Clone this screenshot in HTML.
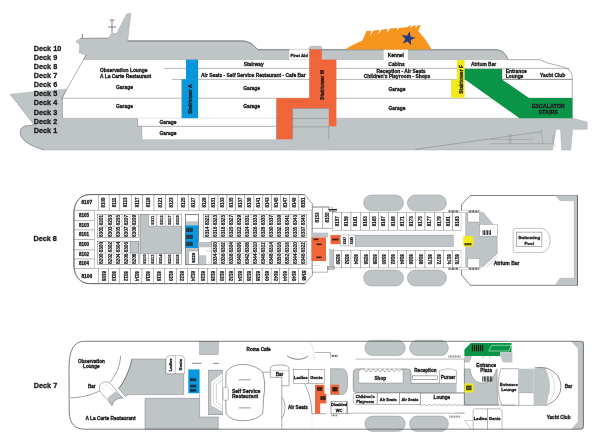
<!DOCTYPE html>
<html><head><meta charset="utf-8"><style>
html,body{margin:0;padding:0;background:#fff;width:600px;height:443px;overflow:hidden}
svg{display:block;font-family:"Liberation Sans",sans-serif;will-change:transform}
</style></head><body>
<svg width="600" height="443" viewBox="0 0 600 443">
<path d="M10.3,94.2 Q38,90.6 66.3,89.2 L62.4,98.4 L62.4,118.3 L572.6,118.3 L587.2,121.9 L587.2,129.3 L572.6,129.3 L570.7,150 L561.6,150 L560.6,129.3 L556,129.3 L552.4,150 L44.2,150 C31.6,146.5 20.2,140.5 20.2,132.4 C20.2,127.6 24,125.6 29,125.6 L34,124.8 Z" fill="#bfc4c7" stroke="#a4a7a9" stroke-width="0.45"/>
<path d="M34,124.8 L29,125.6 C24,125.6 20.2,127.6 20.2,132.4 C20.2,140.5 31.6,146.5 44.2,150" fill="none" stroke="#666" stroke-width="0.45"/>
<path d="M10.3,94.2 L34,124.8" fill="none" stroke="#8a8a8a" stroke-width="0.35"/>
<path d="M75.8,41.8 L80.5,38.2 L108.3,38 L111.7,33.6 L116.7,33.4 L126.3,14.5 L127.8,13.6 L130.8,13.6 L127.6,40.6 L241,40.6 C250,40.6 253,44.5 257.8,49.4 L495,49.4 C502,49.4 506,54 508,59.6 L83.7,59.6 L86,55 L79,52.5 L79.7,49 L79.7,44.2 Z" fill="#bfc4c7" stroke="#8a8a8a" stroke-width="0.4"/>
<path d="M127.6,41.1 L241,41.1 C250,41.1 253,45 257.8,49.8 L495,49.8 C502,49.8 506,54 508,59.6" fill="none" stroke="#7d8083" stroke-width="0.9"/>
<path d="M80.5,38.5 L108.3,38.3" fill="none" stroke="#8a8d90" stroke-width="0.6"/>
<line x1="112" y1="20" x2="112" y2="33" stroke="#333" stroke-width="0.6"/>
<line x1="109.6" y1="20" x2="114.7" y2="20" stroke="#333" stroke-width="0.6"/>
<line x1="108" y1="27" x2="116" y2="27" stroke="#333" stroke-width="0.6"/>
<line x1="82.4" y1="34" x2="82.4" y2="38.2" stroke="#333" stroke-width="0.6"/>
<line x1="125" y1="22" x2="119.5" y2="37" stroke="#a9adb0" stroke-width="0.4"/>
<line x1="128" y1="20" x2="127" y2="30" stroke="#a9adb0" stroke-width="0.3"/>
<polyline points="508,59.6 539.2,59.6 547.7,63 561.2,66.4" fill="none" stroke="#5a5a5a" stroke-width="0.5"/>
<path d="M561.2,66.4 C567.5,68 572.2,71 572.2,77 L572.2,118.3" fill="none" stroke="#5a5a5a" stroke-width="0.5"/>
<line x1="86" y1="55" x2="61.6" y2="98.6" stroke="#5a5a5a" stroke-width="0.45"/>
<line x1="163.8" y1="68.4" x2="569.7" y2="68.4" stroke="#6e6e6e" stroke-width="0.5"/>
<line x1="172" y1="79.4" x2="572.2" y2="79.4" stroke="#6e6e6e" stroke-width="0.5"/>
<line x1="62.4" y1="98.2" x2="572.2" y2="98.2" stroke="#6e6e6e" stroke-width="0.5"/>
<rect x="137.6" y="118.3" width="138.8" height="8" fill="#fff"/>
<rect x="142" y="126.3" width="134.4" height="13" fill="#fff"/>
<line x1="137.6" y1="126.3" x2="276.4" y2="126.3" stroke="#6e6e6e" stroke-width="0.5"/>
<line x1="137.6" y1="118.4" x2="137.6" y2="126.3" stroke="#6e6e6e" stroke-width="0.5"/>
<line x1="142" y1="126.3" x2="142" y2="139.3" stroke="#888" stroke-width="0.3"/>
<line x1="62.4" y1="98.2" x2="62.4" y2="118.3" stroke="#888" stroke-width="0.4"/>
<rect x="289.3" y="49.4" width="20.5" height="10.2" fill="#fff"/>
<rect x="383.7" y="49.5" width="24.2" height="10.5" fill="#fff"/>
<line x1="415" y1="149.3" x2="541.4" y2="131.7" stroke="#707070" stroke-width="0.4"/>
<line x1="490" y1="139.4" x2="534" y2="139.4" stroke="#808080" stroke-width="0.35"/>
<line x1="490" y1="143.6" x2="554" y2="143.6" stroke="#808080" stroke-width="0.35"/>
<line x1="509.3" y1="133.5" x2="509.3" y2="143.6" stroke="#808080" stroke-width="0.35"/>
<line x1="511" y1="133.5" x2="511" y2="143.6" stroke="#808080" stroke-width="0.35"/>
<line x1="541" y1="129.5" x2="543" y2="143.6" stroke="#808080" stroke-width="0.35"/>
<path d="M554,135 C552,138 553,143 555,147" fill="none" stroke="#707070" stroke-width="0.35"/>
<path d="M345,49.5 C352,45 357,42.5 362.5,40.4 L366.4,31.1 L371.7,30.7 L369.9,36.3 L373.6,30.4 L379.5,29.8 L378.2,34.2 L381.8,29.5 L387.5,28.9 L386.6,33 L390.2,28.6 L397,28 L397.5,30 L399.2,28 L407,27.3 L408,26.5 L409.5,25.6 L411.3,25.5 L409.6,28.6 L413.6,25.5 L416,25.4 L414.6,28.5 L418.2,25.3 L420.7,25.3 L418.3,31 C424,37 428,43 431.7,49.5 Z" fill="#f7941e"/>
<polygon points="409.74,31.36 410.43,36.59 415.56,37.83 410.8,40.1 411.21,45.36 407.58,41.53 402.7,43.55 405.22,38.91 401.79,34.9 406.98,35.86" fill="#24398a"/>
<rect x="186" y="59.6" width="12.1" height="19.8" fill="#0897dd"/>
<rect x="181.7" y="79.2" width="16.4" height="39" fill="#0897dd"/>
<text x="0" y="0" font-size="5" text-anchor="middle" fill="#1a1a1a" font-weight="bold" stroke="#1a1a1a" stroke-width="0.3" transform="translate(190.2 99.1) rotate(-90) translate(0 1.8)">Stairtower A</text>
<path d="M309.2,49.6 L309.2,48.2 Q309.2,46.2 312,46.2 L319.4,46.2 Q321.8,46.2 321.8,48.2 L321.8,49.6 Z" fill="#bfc4c7" stroke="#777" stroke-width="0.35"/>
<rect x="309.2" y="49.5" width="12.6" height="10.3" fill="#f0663a"/>
<rect x="309.2" y="59.6" width="27.2" height="66.7" fill="#f0663a"/>
<rect x="276.4" y="98.1" width="33.5" height="41.2" fill="#f0663a"/>
<rect x="292.5" y="108.3" width="36.3" height="41.7" fill="#bfc4c7"/>
<line x1="292.7" y1="108.3" x2="292.7" y2="139.3" stroke="#8a7f7a" stroke-width="0.6"/>
<line x1="292.5" y1="108.5" x2="328.8" y2="108.5" stroke="#8a7f7a" stroke-width="0.5"/>
<line x1="276.5" y1="98.2" x2="276.5" y2="139.3" stroke="#a09893" stroke-width="0.6"/>
<line x1="451.5" y1="79.6" x2="451.5" y2="97.8" stroke="#b5b08a" stroke-width="0.5"/>
<line x1="181.9" y1="79.3" x2="181.9" y2="118.2" stroke="#6f8a9a" stroke-width="0.5"/>
<line x1="292.5" y1="118.5" x2="328.8" y2="118.5" stroke="#707070" stroke-width="0.4"/>
<line x1="292.5" y1="126.9" x2="328.8" y2="126.9" stroke="#707070" stroke-width="0.4"/>
<line x1="328.8" y1="126.3" x2="328.8" y2="139" stroke="#707070" stroke-width="0.4"/>
<text x="0" y="0" font-size="5" text-anchor="middle" fill="#1a1a1a" font-weight="bold" stroke="#1a1a1a" stroke-width="0.3" transform="translate(322.5 84.9) rotate(-90) translate(0 1.8)">Stairtower M</text>
<rect x="457" y="60" width="7.6" height="37.8" fill="#f3ea1a"/>
<rect x="451.4" y="79.6" width="5.8" height="18.2" fill="#f3ea1a"/>
<text x="0" y="0" font-size="5" text-anchor="middle" fill="#1a1a1a" font-weight="bold" stroke="#1a1a1a" stroke-width="0.3" transform="translate(460.9 79.4) rotate(-90) translate(0 1.8)">Stairtower F</text>
<polygon points="464.6,68.9 502,68.9 502,79.4 529,97.9 572.4,97.9 572.4,118.3 519.5,118.3 464.6,79.2" fill="#0a9447"/>
<line x1="502" y1="68.6" x2="502" y2="79.4" stroke="#555" stroke-width="0.4"/>
<line x1="502" y1="79.4" x2="572.2" y2="79.4" stroke="#555" stroke-width="0.4"/>
<text x="100" y="72.4" font-size="4.9" text-anchor="start" fill="#1a1a1a" font-weight="bold" stroke="#1a1a1a" stroke-width="0.3">Observation Lounge</text>
<text x="100" y="77.5" font-size="4.9" text-anchor="start" fill="#1a1a1a" font-weight="bold" stroke="#1a1a1a" stroke-width="0.3">A La Carte Restaurant</text>
<text x="124.5" y="89" font-size="4.9" text-anchor="middle" fill="#1a1a1a" font-weight="bold" stroke="#1a1a1a" stroke-width="0.3">Garage</text>
<text x="124.5" y="107.6" font-size="4.9" text-anchor="middle" fill="#1a1a1a" font-weight="bold" stroke="#1a1a1a" stroke-width="0.3">Garage</text>
<text x="168" y="124.2" font-size="4.9" text-anchor="middle" fill="#1a1a1a" font-weight="bold" stroke="#1a1a1a" stroke-width="0.3">Garage</text>
<text x="168" y="134.6" font-size="4.9" text-anchor="middle" fill="#1a1a1a" font-weight="bold" stroke="#1a1a1a" stroke-width="0.3">Garage</text>
<text x="253.7" y="66" font-size="4.9" text-anchor="middle" fill="#1a1a1a" font-weight="bold" stroke="#1a1a1a" stroke-width="0.3">Stairway</text>
<text x="201" y="76.5" font-size="4.9" text-anchor="start" fill="#1a1a1a" font-weight="bold" stroke="#1a1a1a" stroke-width="0.3">Air Seats - Self Service Restaurant - Cafe Bar</text>
<text x="251.6" y="89.7" font-size="4.9" text-anchor="middle" fill="#1a1a1a" font-weight="bold" stroke="#1a1a1a" stroke-width="0.3">Garage</text>
<text x="251.6" y="108.3" font-size="4.9" text-anchor="middle" fill="#1a1a1a" font-weight="bold" stroke="#1a1a1a" stroke-width="0.3">Garage</text>
<text x="299.2" y="56.6" font-size="4.3" text-anchor="middle" fill="#1a1a1a" font-weight="bold" stroke="#1a1a1a" stroke-width="0.3">First Aid</text>
<text x="395.8" y="56.6" font-size="4.9" text-anchor="middle" fill="#1a1a1a" font-weight="bold" stroke="#1a1a1a" stroke-width="0.3">Kennel</text>
<text x="396.5" y="65.5" font-size="4.9" text-anchor="middle" fill="#1a1a1a" font-weight="bold" stroke="#1a1a1a" stroke-width="0.3">Cabins</text>
<text x="401" y="72.8" font-size="4.9" text-anchor="middle" fill="#1a1a1a" font-weight="bold" stroke="#1a1a1a" stroke-width="0.3">Reception - Air Seats</text>
<text x="397" y="77.6" font-size="4.9" text-anchor="middle" fill="#1a1a1a" font-weight="bold" stroke="#1a1a1a" stroke-width="0.3">Children's Playroom - Shops</text>
<text x="397" y="90.6" font-size="4.9" text-anchor="middle" fill="#1a1a1a" font-weight="bold" stroke="#1a1a1a" stroke-width="0.3">Garage</text>
<text x="397" y="109.6" font-size="4.9" text-anchor="middle" fill="#1a1a1a" font-weight="bold" stroke="#1a1a1a" stroke-width="0.3">Garage</text>
<text x="471" y="66.2" font-size="4.9" text-anchor="start" fill="#1a1a1a" font-weight="bold" stroke="#1a1a1a" stroke-width="0.3">Atrium Bar</text>
<text x="505.7" y="73.1" font-size="4.9" text-anchor="start" fill="#1a1a1a" font-weight="bold" stroke="#1a1a1a" stroke-width="0.3">Entrance</text>
<text x="505.7" y="78.2" font-size="4.9" text-anchor="start" fill="#1a1a1a" font-weight="bold" stroke="#1a1a1a" stroke-width="0.3">Lounge</text>
<text x="540" y="76.7" font-size="4.9" text-anchor="start" fill="#1a1a1a" font-weight="bold" stroke="#1a1a1a" stroke-width="0.3">Yacht Club</text>
<text x="548.2" y="107.8" font-size="5.4" text-anchor="middle" fill="#241820" font-weight="bold" stroke="#241820" stroke-width="0.3">ESCALATOR</text>
<text x="548.2" y="113.5" font-size="5.4" text-anchor="middle" fill="#241820" font-weight="bold" stroke="#241820" stroke-width="0.3">STAIRS</text>
<text x="33.8" y="51.1" font-size="8" text-anchor="start" fill="#1a1a1a" font-weight="bold" stroke="#1a1a1a" stroke-width="0.32" transform="translate(33.8 51.1) scale(0.91 1) translate(-33.8 -51.1)">Deck 10</text>
<text x="33.8" y="60.2" font-size="8" text-anchor="start" fill="#1a1a1a" font-weight="bold" stroke="#1a1a1a" stroke-width="0.32" transform="translate(33.8 60.2) scale(0.91 1) translate(-33.8 -60.2)">Deck 9</text>
<text x="33.8" y="69.3" font-size="8" text-anchor="start" fill="#1a1a1a" font-weight="bold" stroke="#1a1a1a" stroke-width="0.32" transform="translate(33.8 69.3) scale(0.91 1) translate(-33.8 -69.3)">Deck 8</text>
<text x="33.8" y="78.3" font-size="8" text-anchor="start" fill="#1a1a1a" font-weight="bold" stroke="#1a1a1a" stroke-width="0.32" transform="translate(33.8 78.3) scale(0.91 1) translate(-33.8 -78.3)">Deck 7</text>
<text x="33.8" y="87.3" font-size="8" text-anchor="start" fill="#1a1a1a" font-weight="bold" stroke="#1a1a1a" stroke-width="0.32" transform="translate(33.8 87.3) scale(0.91 1) translate(-33.8 -87.3)">Deck 6</text>
<text x="33.8" y="96.5" font-size="8" text-anchor="start" fill="#1a1a1a" font-weight="bold" stroke="#1a1a1a" stroke-width="0.32" transform="translate(33.8 96.5) scale(0.91 1) translate(-33.8 -96.5)">Deck 5</text>
<text x="33.8" y="105.5" font-size="8" text-anchor="start" fill="#1a1a1a" font-weight="bold" stroke="#1a1a1a" stroke-width="0.32" transform="translate(33.8 105.5) scale(0.91 1) translate(-33.8 -105.5)">Deck 4</text>
<text x="33.8" y="114.6" font-size="8" text-anchor="start" fill="#1a1a1a" font-weight="bold" stroke="#1a1a1a" stroke-width="0.32" transform="translate(33.8 114.6) scale(0.91 1) translate(-33.8 -114.6)">Deck 3</text>
<text x="33.8" y="123.6" font-size="8" text-anchor="start" fill="#1a1a1a" font-weight="bold" stroke="#1a1a1a" stroke-width="0.32" transform="translate(33.8 123.6) scale(0.91 1) translate(-33.8 -123.6)">Deck 2</text>
<text x="33.8" y="132.8" font-size="8" text-anchor="start" fill="#1a1a1a" font-weight="bold" stroke="#1a1a1a" stroke-width="0.32" transform="translate(33.8 132.8) scale(0.91 1) translate(-33.8 -132.8)">Deck 1</text>
<path d="M304.6,194.6 L89.5,194.6 C80,195 74,202 74,214 L74,264 C74,276 80,283.6 90,283.6 L304.8,283.6 L312.1,275.3 L312.1,267.5 L312.1,203.6 Z" fill="#fff" stroke="#555555" stroke-width="0.75"/>
<rect x="98.5" y="194.6" width="10.65" height="15.7" fill="#fff" stroke="#7a7a7a" stroke-width="0.4"/>
<text x="0" y="0" font-size="4.5" text-anchor="middle" fill="#1a1a1a" font-weight="bold" stroke="#1a1a1a" stroke-width="0.2" transform="translate(103.83 202.45) rotate(-90) translate(0 1.62)">8109</text>
<rect x="109.15" y="194.6" width="10.75" height="15.7" fill="#fff" stroke="#7a7a7a" stroke-width="0.4"/>
<text x="0" y="0" font-size="4.5" text-anchor="middle" fill="#1a1a1a" font-weight="bold" stroke="#1a1a1a" stroke-width="0.2" transform="translate(114.53 202.45) rotate(-90) translate(0 1.62)">8111</text>
<rect x="119.9" y="194.6" width="11.35" height="15.7" fill="#fff" stroke="#7a7a7a" stroke-width="0.4"/>
<text x="0" y="0" font-size="4.5" text-anchor="middle" fill="#1a1a1a" font-weight="bold" stroke="#1a1a1a" stroke-width="0.2" transform="translate(125.58 202.45) rotate(-90) translate(0 1.62)">8113</text>
<rect x="131.25" y="194.6" width="11.25" height="15.7" fill="#fff" stroke="#7a7a7a" stroke-width="0.4"/>
<text x="0" y="0" font-size="4.5" text-anchor="middle" fill="#1a1a1a" font-weight="bold" stroke="#1a1a1a" stroke-width="0.2" transform="translate(136.88 202.45) rotate(-90) translate(0 1.62)">8117</text>
<rect x="142.5" y="194.6" width="11.5" height="15.7" fill="#fff" stroke="#7a7a7a" stroke-width="0.4"/>
<text x="0" y="0" font-size="4.5" text-anchor="middle" fill="#1a1a1a" font-weight="bold" stroke="#1a1a1a" stroke-width="0.2" transform="translate(148.25 202.45) rotate(-90) translate(0 1.62)">8119</text>
<rect x="154" y="194.6" width="11.75" height="15.7" fill="#fff" stroke="#7a7a7a" stroke-width="0.4"/>
<text x="0" y="0" font-size="4.5" text-anchor="middle" fill="#1a1a1a" font-weight="bold" stroke="#1a1a1a" stroke-width="0.2" transform="translate(159.88 202.45) rotate(-90) translate(0 1.62)">8121</text>
<rect x="165.75" y="194.6" width="11.5" height="15.7" fill="#fff" stroke="#7a7a7a" stroke-width="0.4"/>
<text x="0" y="0" font-size="4.5" text-anchor="middle" fill="#1a1a1a" font-weight="bold" stroke="#1a1a1a" stroke-width="0.2" transform="translate(171.5 202.45) rotate(-90) translate(0 1.62)">8123</text>
<rect x="177.25" y="194.6" width="11.25" height="15.7" fill="#fff" stroke="#7a7a7a" stroke-width="0.4"/>
<text x="0" y="0" font-size="4.5" text-anchor="middle" fill="#1a1a1a" font-weight="bold" stroke="#1a1a1a" stroke-width="0.2" transform="translate(182.88 202.45) rotate(-90) translate(0 1.62)">8125</text>
<rect x="188.5" y="194.6" width="10.6" height="15.7" fill="#fff" stroke="#7a7a7a" stroke-width="0.4"/>
<text x="0" y="0" font-size="4.5" text-anchor="middle" fill="#1a1a1a" font-weight="bold" stroke="#1a1a1a" stroke-width="0.2" transform="translate(193.8 202.45) rotate(-90) translate(0 1.62)">8127</text>
<rect x="199.1" y="194.6" width="9.8" height="15.7" fill="#fff" stroke="#7a7a7a" stroke-width="0.4"/>
<text x="0" y="0" font-size="4.5" text-anchor="middle" fill="#1a1a1a" font-weight="bold" stroke="#1a1a1a" stroke-width="0.2" transform="translate(204 202.45) rotate(-90) translate(0 1.62)">8129</text>
<rect x="208.9" y="194.6" width="9.1" height="15.7" fill="#fff" stroke="#7a7a7a" stroke-width="0.4"/>
<text x="0" y="0" font-size="4.5" text-anchor="middle" fill="#1a1a1a" font-weight="bold" stroke="#1a1a1a" stroke-width="0.2" transform="translate(213.45 202.45) rotate(-90) translate(0 1.62)">8131</text>
<rect x="218" y="194.6" width="9" height="15.7" fill="#fff" stroke="#7a7a7a" stroke-width="0.4"/>
<text x="0" y="0" font-size="4.5" text-anchor="middle" fill="#1a1a1a" font-weight="bold" stroke="#1a1a1a" stroke-width="0.2" transform="translate(222.5 202.45) rotate(-90) translate(0 1.62)">8133</text>
<rect x="227" y="194.6" width="8.8" height="15.7" fill="#fff" stroke="#7a7a7a" stroke-width="0.4"/>
<text x="0" y="0" font-size="4.5" text-anchor="middle" fill="#1a1a1a" font-weight="bold" stroke="#1a1a1a" stroke-width="0.2" transform="translate(231.4 202.45) rotate(-90) translate(0 1.62)">8135</text>
<rect x="235.8" y="194.6" width="9" height="15.7" fill="#fff" stroke="#7a7a7a" stroke-width="0.4"/>
<text x="0" y="0" font-size="4.5" text-anchor="middle" fill="#1a1a1a" font-weight="bold" stroke="#1a1a1a" stroke-width="0.2" transform="translate(240.3 202.45) rotate(-90) translate(0 1.62)">8137</text>
<rect x="244.8" y="194.6" width="9.2" height="15.7" fill="#fff" stroke="#7a7a7a" stroke-width="0.4"/>
<text x="0" y="0" font-size="4.5" text-anchor="middle" fill="#1a1a1a" font-weight="bold" stroke="#1a1a1a" stroke-width="0.2" transform="translate(249.4 202.45) rotate(-90) translate(0 1.62)">8139</text>
<rect x="254" y="194.6" width="8.9" height="15.7" fill="#fff" stroke="#7a7a7a" stroke-width="0.4"/>
<text x="0" y="0" font-size="4.5" text-anchor="middle" fill="#1a1a1a" font-weight="bold" stroke="#1a1a1a" stroke-width="0.2" transform="translate(258.45 202.45) rotate(-90) translate(0 1.62)">8141</text>
<rect x="262.9" y="194.6" width="8.8" height="15.7" fill="#fff" stroke="#7a7a7a" stroke-width="0.4"/>
<text x="0" y="0" font-size="4.5" text-anchor="middle" fill="#1a1a1a" font-weight="bold" stroke="#1a1a1a" stroke-width="0.2" transform="translate(267.3 202.45) rotate(-90) translate(0 1.62)">8143</text>
<rect x="271.7" y="194.6" width="8.8" height="15.7" fill="#fff" stroke="#7a7a7a" stroke-width="0.4"/>
<text x="0" y="0" font-size="4.5" text-anchor="middle" fill="#1a1a1a" font-weight="bold" stroke="#1a1a1a" stroke-width="0.2" transform="translate(276.1 202.45) rotate(-90) translate(0 1.62)">8145</text>
<rect x="280.5" y="194.6" width="9" height="15.7" fill="#fff" stroke="#7a7a7a" stroke-width="0.4"/>
<text x="0" y="0" font-size="4.5" text-anchor="middle" fill="#1a1a1a" font-weight="bold" stroke="#1a1a1a" stroke-width="0.2" transform="translate(285 202.45) rotate(-90) translate(0 1.62)">8147</text>
<rect x="289.5" y="194.6" width="9" height="15.7" fill="#fff" stroke="#7a7a7a" stroke-width="0.4"/>
<text x="0" y="0" font-size="4.5" text-anchor="middle" fill="#1a1a1a" font-weight="bold" stroke="#1a1a1a" stroke-width="0.2" transform="translate(294 202.45) rotate(-90) translate(0 1.62)">8149</text>
<path d="M298.5,194.6 L304.6,194.6 L312.1,203.6 L312.1,210.3 L298.5,210.3 Z" fill="#fff" stroke="#7a7a7a" stroke-width="0.4"/>
<text x="0" y="0" font-size="4.5" text-anchor="middle" fill="#1a1a1a" font-weight="bold" stroke="#1a1a1a" stroke-width="0.3" transform="translate(303.5 202.5) rotate(-90) translate(0 1.62)">8151</text>
<rect x="98.5" y="268.4" width="10" height="15.2" fill="#fff" stroke="#7a7a7a" stroke-width="0.4"/>
<text x="0" y="0" font-size="4.5" text-anchor="middle" fill="#1a1a1a" font-weight="bold" stroke="#1a1a1a" stroke-width="0.2" transform="translate(103.5 276) rotate(90) translate(0 1.62)">8108</text>
<rect x="108.5" y="268.4" width="11" height="15.2" fill="#fff" stroke="#7a7a7a" stroke-width="0.4"/>
<text x="0" y="0" font-size="4.5" text-anchor="middle" fill="#1a1a1a" font-weight="bold" stroke="#1a1a1a" stroke-width="0.2" transform="translate(114 276) rotate(90) translate(0 1.62)">8110</text>
<rect x="119.5" y="268.4" width="11.25" height="15.2" fill="#fff" stroke="#7a7a7a" stroke-width="0.4"/>
<text x="0" y="0" font-size="4.5" text-anchor="middle" fill="#1a1a1a" font-weight="bold" stroke="#1a1a1a" stroke-width="0.2" transform="translate(125.12 276) rotate(90) translate(0 1.62)">8112</text>
<rect x="130.75" y="268.4" width="11.25" height="15.2" fill="#fff" stroke="#7a7a7a" stroke-width="0.4"/>
<text x="0" y="0" font-size="4.5" text-anchor="middle" fill="#1a1a1a" font-weight="bold" stroke="#1a1a1a" stroke-width="0.2" transform="translate(136.38 276) rotate(90) translate(0 1.62)">8114</text>
<rect x="142" y="268.4" width="11.25" height="15.2" fill="#fff" stroke="#7a7a7a" stroke-width="0.4"/>
<text x="0" y="0" font-size="4.5" text-anchor="middle" fill="#1a1a1a" font-weight="bold" stroke="#1a1a1a" stroke-width="0.2" transform="translate(147.62 276) rotate(90) translate(0 1.62)">8116</text>
<rect x="153.25" y="268.4" width="11.6" height="15.2" fill="#fff" stroke="#7a7a7a" stroke-width="0.4"/>
<text x="0" y="0" font-size="4.5" text-anchor="middle" fill="#1a1a1a" font-weight="bold" stroke="#1a1a1a" stroke-width="0.2" transform="translate(159.05 276) rotate(90) translate(0 1.62)">8118</text>
<rect x="164.85" y="268.4" width="11.5" height="15.2" fill="#fff" stroke="#7a7a7a" stroke-width="0.4"/>
<text x="0" y="0" font-size="4.5" text-anchor="middle" fill="#1a1a1a" font-weight="bold" stroke="#1a1a1a" stroke-width="0.2" transform="translate(170.6 276) rotate(90) translate(0 1.62)">8120</text>
<rect x="176.35" y="268.4" width="11.3" height="15.2" fill="#fff" stroke="#7a7a7a" stroke-width="0.4"/>
<text x="0" y="0" font-size="4.5" text-anchor="middle" fill="#1a1a1a" font-weight="bold" stroke="#1a1a1a" stroke-width="0.2" transform="translate(182 276) rotate(90) translate(0 1.62)">8122</text>
<rect x="187.65" y="268.4" width="10.65" height="15.2" fill="#fff" stroke="#7a7a7a" stroke-width="0.4"/>
<text x="0" y="0" font-size="4.5" text-anchor="middle" fill="#1a1a1a" font-weight="bold" stroke="#1a1a1a" stroke-width="0.2" transform="translate(192.98 276) rotate(90) translate(0 1.62)">8124</text>
<rect x="198.3" y="268.4" width="9.35" height="15.2" fill="#fff" stroke="#7a7a7a" stroke-width="0.4"/>
<text x="0" y="0" font-size="4.5" text-anchor="middle" fill="#1a1a1a" font-weight="bold" stroke="#1a1a1a" stroke-width="0.2" transform="translate(202.98 276) rotate(90) translate(0 1.62)">8126</text>
<rect x="207.65" y="268.4" width="9" height="15.2" fill="#fff" stroke="#7a7a7a" stroke-width="0.4"/>
<text x="0" y="0" font-size="4.5" text-anchor="middle" fill="#1a1a1a" font-weight="bold" stroke="#1a1a1a" stroke-width="0.2" transform="translate(212.15 276) rotate(90) translate(0 1.62)">8128</text>
<rect x="216.65" y="268.4" width="9.12" height="15.2" fill="#fff" stroke="#7a7a7a" stroke-width="0.4"/>
<text x="0" y="0" font-size="4.5" text-anchor="middle" fill="#1a1a1a" font-weight="bold" stroke="#1a1a1a" stroke-width="0.2" transform="translate(221.21 276) rotate(90) translate(0 1.62)">8130</text>
<rect x="225.78" y="268.4" width="8.97" height="15.2" fill="#fff" stroke="#7a7a7a" stroke-width="0.4"/>
<text x="0" y="0" font-size="4.5" text-anchor="middle" fill="#1a1a1a" font-weight="bold" stroke="#1a1a1a" stroke-width="0.2" transform="translate(230.26 276) rotate(90) translate(0 1.62)">8132</text>
<rect x="234.75" y="268.4" width="9" height="15.2" fill="#fff" stroke="#7a7a7a" stroke-width="0.4"/>
<text x="0" y="0" font-size="4.5" text-anchor="middle" fill="#1a1a1a" font-weight="bold" stroke="#1a1a1a" stroke-width="0.2" transform="translate(239.25 276) rotate(90) translate(0 1.62)">8134</text>
<rect x="243.75" y="268.4" width="9" height="15.2" fill="#fff" stroke="#7a7a7a" stroke-width="0.4"/>
<text x="0" y="0" font-size="4.5" text-anchor="middle" fill="#1a1a1a" font-weight="bold" stroke="#1a1a1a" stroke-width="0.2" transform="translate(248.25 276) rotate(90) translate(0 1.62)">8136</text>
<rect x="252.75" y="268.4" width="9.38" height="15.2" fill="#fff" stroke="#7a7a7a" stroke-width="0.4"/>
<text x="0" y="0" font-size="4.5" text-anchor="middle" fill="#1a1a1a" font-weight="bold" stroke="#1a1a1a" stroke-width="0.2" transform="translate(257.44 276) rotate(90) translate(0 1.62)">8138</text>
<rect x="262.12" y="268.4" width="9" height="15.2" fill="#fff" stroke="#7a7a7a" stroke-width="0.4"/>
<text x="0" y="0" font-size="4.5" text-anchor="middle" fill="#1a1a1a" font-weight="bold" stroke="#1a1a1a" stroke-width="0.2" transform="translate(266.62 276) rotate(90) translate(0 1.62)">8140</text>
<rect x="271.12" y="268.4" width="8.62" height="15.2" fill="#fff" stroke="#7a7a7a" stroke-width="0.4"/>
<text x="0" y="0" font-size="4.5" text-anchor="middle" fill="#1a1a1a" font-weight="bold" stroke="#1a1a1a" stroke-width="0.2" transform="translate(275.44 276) rotate(90) translate(0 1.62)">8142</text>
<rect x="279.75" y="268.4" width="9" height="15.2" fill="#fff" stroke="#7a7a7a" stroke-width="0.4"/>
<text x="0" y="0" font-size="4.5" text-anchor="middle" fill="#1a1a1a" font-weight="bold" stroke="#1a1a1a" stroke-width="0.2" transform="translate(284.25 276) rotate(90) translate(0 1.62)">8144</text>
<rect x="288.75" y="268.4" width="9.75" height="15.2" fill="#fff" stroke="#7a7a7a" stroke-width="0.4"/>
<text x="0" y="0" font-size="4.5" text-anchor="middle" fill="#1a1a1a" font-weight="bold" stroke="#1a1a1a" stroke-width="0.2" transform="translate(293.62 276) rotate(90) translate(0 1.62)">8146</text>
<path d="M298.5,268.4 L312.1,268.4 L312.1,275.3 L304.8,283.6 L298.5,283.6 Z" fill="#fff" stroke="#7a7a7a" stroke-width="0.4"/>
<text x="0" y="0" font-size="4.5" text-anchor="middle" fill="#1a1a1a" font-weight="bold" stroke="#1a1a1a" stroke-width="0.3" transform="translate(304 275.4) rotate(90) translate(0 1.62)">8148</text>
<path d="M98.5,194.6 L89.5,194.6 C80,195 74,202 74,210.3 L98.5,210.3 Z" fill="#fff" stroke="#7a7a7a" stroke-width="0.4"/>
<text x="86.8" y="204.4" font-size="4.8" text-anchor="middle" fill="#1a1a1a" font-weight="bold" stroke="#1a1a1a" stroke-width="0.3">8107</text>
<path d="M98.5,268.4 L74,268.4 C74,276 80,283.6 90,283.6 L98.5,283.6 Z" fill="#fff" stroke="#7a7a7a" stroke-width="0.4"/>
<text x="86.8" y="277.8" font-size="4.8" text-anchor="middle" fill="#1a1a1a" font-weight="bold" stroke="#1a1a1a" stroke-width="0.3">8106</text>
<rect x="74" y="210.3" width="20.2" height="10.1" fill="#fff" stroke="#7a7a7a" stroke-width="0.4"/>
<text x="84" y="216.85" font-size="4.5" text-anchor="middle" fill="#1a1a1a" font-weight="bold" stroke="#1a1a1a" stroke-width="0.3">8105</text>
<rect x="74" y="220.4" width="20.2" height="9.6" fill="#fff" stroke="#7a7a7a" stroke-width="0.4"/>
<text x="84" y="226.7" font-size="4.5" text-anchor="middle" fill="#1a1a1a" font-weight="bold" stroke="#1a1a1a" stroke-width="0.3">8103</text>
<rect x="74" y="230" width="20.2" height="9.6" fill="#fff" stroke="#7a7a7a" stroke-width="0.4"/>
<text x="84" y="236.3" font-size="4.5" text-anchor="middle" fill="#1a1a1a" font-weight="bold" stroke="#1a1a1a" stroke-width="0.3">8101</text>
<rect x="74" y="239.6" width="20.2" height="10.4" fill="#fff" stroke="#7a7a7a" stroke-width="0.4"/>
<text x="84" y="246.3" font-size="4.5" text-anchor="middle" fill="#1a1a1a" font-weight="bold" stroke="#1a1a1a" stroke-width="0.3">8100</text>
<rect x="74" y="250" width="20.2" height="9" fill="#fff" stroke="#7a7a7a" stroke-width="0.4"/>
<text x="84" y="256" font-size="4.5" text-anchor="middle" fill="#1a1a1a" font-weight="bold" stroke="#1a1a1a" stroke-width="0.3">8102</text>
<rect x="74" y="259" width="20.2" height="9.4" fill="#fff" stroke="#7a7a7a" stroke-width="0.4"/>
<text x="84" y="265.2" font-size="4.5" text-anchor="middle" fill="#1a1a1a" font-weight="bold" stroke="#1a1a1a" stroke-width="0.3">8104</text>
<path d="M304.6,194.6 L89.5,194.6 C80,195 74,202 74,214 L74,264 C74,276 80,283.6 90,283.6 L304.8,283.6" fill="none" stroke="#555555" stroke-width="0.75"/>
<rect x="97.6" y="214.3" width="40.7" height="23.4" fill="#fff" stroke="#555555" stroke-width="0.45"/>
<line x1="97.6" y1="226" x2="138.3" y2="226" stroke="#7a7a7a" stroke-width="0.35"/>
<line x1="105.74" y1="214.3" x2="105.74" y2="237.7" stroke="#7a7a7a" stroke-width="0.35"/>
<line x1="113.88" y1="214.3" x2="113.88" y2="237.7" stroke="#7a7a7a" stroke-width="0.35"/>
<line x1="122.02" y1="214.3" x2="122.02" y2="237.7" stroke="#7a7a7a" stroke-width="0.35"/>
<line x1="130.16" y1="214.3" x2="130.16" y2="237.7" stroke="#7a7a7a" stroke-width="0.35"/>
<text x="0" y="0" font-size="4.7" text-anchor="middle" fill="#1a1a1a" font-weight="bold" stroke="#1a1a1a" stroke-width="0.14" transform="translate(101.67 220.15) rotate(-90) translate(0 1.69)">8201</text>
<text x="0" y="0" font-size="4.7" text-anchor="middle" fill="#1a1a1a" font-weight="bold" stroke="#1a1a1a" stroke-width="0.14" transform="translate(101.67 231.85) rotate(-90) translate(0 1.69)">8301</text>
<text x="0" y="0" font-size="4.7" text-anchor="middle" fill="#1a1a1a" font-weight="bold" stroke="#1a1a1a" stroke-width="0.14" transform="translate(109.81 220.15) rotate(-90) translate(0 1.69)">8203</text>
<text x="0" y="0" font-size="4.7" text-anchor="middle" fill="#1a1a1a" font-weight="bold" stroke="#1a1a1a" stroke-width="0.14" transform="translate(109.81 231.85) rotate(-90) translate(0 1.69)">8303</text>
<text x="0" y="0" font-size="4.7" text-anchor="middle" fill="#1a1a1a" font-weight="bold" stroke="#1a1a1a" stroke-width="0.14" transform="translate(117.95 220.15) rotate(-90) translate(0 1.69)">8205</text>
<text x="0" y="0" font-size="4.7" text-anchor="middle" fill="#1a1a1a" font-weight="bold" stroke="#1a1a1a" stroke-width="0.14" transform="translate(117.95 231.85) rotate(-90) translate(0 1.69)">8305</text>
<text x="0" y="0" font-size="4.7" text-anchor="middle" fill="#1a1a1a" font-weight="bold" stroke="#1a1a1a" stroke-width="0.14" transform="translate(126.09 220.15) rotate(-90) translate(0 1.69)">8207</text>
<text x="0" y="0" font-size="4.7" text-anchor="middle" fill="#1a1a1a" font-weight="bold" stroke="#1a1a1a" stroke-width="0.14" transform="translate(126.09 231.85) rotate(-90) translate(0 1.69)">8307</text>
<text x="0" y="0" font-size="4.7" text-anchor="middle" fill="#1a1a1a" font-weight="bold" stroke="#1a1a1a" stroke-width="0.14" transform="translate(134.23 220.15) rotate(-90) translate(0 1.69)">8209</text>
<text x="0" y="0" font-size="4.7" text-anchor="middle" fill="#1a1a1a" font-weight="bold" stroke="#1a1a1a" stroke-width="0.14" transform="translate(134.23 231.85) rotate(-90) translate(0 1.69)">8309</text>
<rect x="97.6" y="241.3" width="40.7" height="23.4" fill="#fff" stroke="#555555" stroke-width="0.45"/>
<line x1="97.6" y1="253" x2="138.3" y2="253" stroke="#7a7a7a" stroke-width="0.35"/>
<line x1="105.74" y1="241.3" x2="105.74" y2="264.7" stroke="#7a7a7a" stroke-width="0.35"/>
<line x1="113.88" y1="241.3" x2="113.88" y2="264.7" stroke="#7a7a7a" stroke-width="0.35"/>
<line x1="122.02" y1="241.3" x2="122.02" y2="264.7" stroke="#7a7a7a" stroke-width="0.35"/>
<line x1="130.16" y1="241.3" x2="130.16" y2="264.7" stroke="#7a7a7a" stroke-width="0.35"/>
<text x="0" y="0" font-size="4.7" text-anchor="middle" fill="#1a1a1a" font-weight="bold" stroke="#1a1a1a" stroke-width="0.14" transform="translate(101.67 247.15) rotate(-90) translate(0 1.69)">8300</text>
<text x="0" y="0" font-size="4.7" text-anchor="middle" fill="#1a1a1a" font-weight="bold" stroke="#1a1a1a" stroke-width="0.14" transform="translate(101.67 258.85) rotate(-90) translate(0 1.69)">8200</text>
<text x="0" y="0" font-size="4.7" text-anchor="middle" fill="#1a1a1a" font-weight="bold" stroke="#1a1a1a" stroke-width="0.14" transform="translate(109.81 247.15) rotate(-90) translate(0 1.69)">8302</text>
<text x="0" y="0" font-size="4.7" text-anchor="middle" fill="#1a1a1a" font-weight="bold" stroke="#1a1a1a" stroke-width="0.14" transform="translate(109.81 258.85) rotate(-90) translate(0 1.69)">8202</text>
<text x="0" y="0" font-size="4.7" text-anchor="middle" fill="#1a1a1a" font-weight="bold" stroke="#1a1a1a" stroke-width="0.14" transform="translate(117.95 247.15) rotate(-90) translate(0 1.69)">8304</text>
<text x="0" y="0" font-size="4.7" text-anchor="middle" fill="#1a1a1a" font-weight="bold" stroke="#1a1a1a" stroke-width="0.14" transform="translate(117.95 258.85) rotate(-90) translate(0 1.69)">8204</text>
<text x="0" y="0" font-size="4.7" text-anchor="middle" fill="#1a1a1a" font-weight="bold" stroke="#1a1a1a" stroke-width="0.14" transform="translate(126.09 247.15) rotate(-90) translate(0 1.69)">8306</text>
<text x="0" y="0" font-size="4.7" text-anchor="middle" fill="#1a1a1a" font-weight="bold" stroke="#1a1a1a" stroke-width="0.14" transform="translate(126.09 258.85) rotate(-90) translate(0 1.69)">8206</text>
<text x="0" y="0" font-size="4.7" text-anchor="middle" fill="#1a1a1a" font-weight="bold" stroke="#1a1a1a" stroke-width="0.14" transform="translate(134.23 247.15) rotate(-90) translate(0 1.69)"></text>
<text x="0" y="0" font-size="4.7" text-anchor="middle" fill="#1a1a1a" font-weight="bold" stroke="#1a1a1a" stroke-width="0.14" transform="translate(134.23 258.85) rotate(-90) translate(0 1.69)">8208</text>
<rect x="130.1" y="241.3" width="8.2" height="11.7" fill="#bfc4c7" stroke="#7a7a7a" stroke-width="0.35"/>
<rect x="140" y="214.3" width="41.7" height="50.4" fill="#bfc4c7" stroke="#555555" stroke-width="0.45"/>
<rect x="148.7" y="214.3" width="8.2" height="11.7" fill="#fff" stroke="#7a7a7a" stroke-width="0.35"/>
<text x="0" y="0" font-size="4.2" text-anchor="middle" fill="#1a1a1a" font-weight="bold" stroke="#1a1a1a" stroke-width="0.2" transform="translate(152.8 220.15) rotate(-90) translate(0 1.51)">8311</text>
<rect x="156.9" y="214.3" width="8.2" height="11.7" fill="#fff" stroke="#7a7a7a" stroke-width="0.35"/>
<text x="0" y="0" font-size="4.2" text-anchor="middle" fill="#1a1a1a" font-weight="bold" stroke="#1a1a1a" stroke-width="0.2" transform="translate(161 220.15) rotate(-90) translate(0 1.51)">8313</text>
<rect x="165.1" y="214.3" width="8.2" height="11.7" fill="#fff" stroke="#7a7a7a" stroke-width="0.35"/>
<text x="0" y="0" font-size="4.2" text-anchor="middle" fill="#1a1a1a" font-weight="bold" stroke="#1a1a1a" stroke-width="0.2" transform="translate(169.2 220.15) rotate(-90) translate(0 1.51)">8317</text>
<rect x="173.3" y="214.3" width="8.4" height="11.7" fill="#fff" stroke="#7a7a7a" stroke-width="0.35"/>
<text x="0" y="0" font-size="4.2" text-anchor="middle" fill="#1a1a1a" font-weight="bold" stroke="#1a1a1a" stroke-width="0.2" transform="translate(177.5 220.15) rotate(-90) translate(0 1.51)">8319</text>
<rect x="140" y="253.7" width="8.34" height="11" fill="#fff" stroke="#7a7a7a" stroke-width="0.35"/>
<text x="0" y="0" font-size="4.2" text-anchor="middle" fill="#1a1a1a" font-weight="bold" stroke="#1a1a1a" stroke-width="0.2" transform="translate(144.17 259.2) rotate(-90) translate(0 1.51)">8310</text>
<rect x="148.34" y="253.7" width="8.34" height="11" fill="#fff" stroke="#7a7a7a" stroke-width="0.35"/>
<text x="0" y="0" font-size="4.2" text-anchor="middle" fill="#1a1a1a" font-weight="bold" stroke="#1a1a1a" stroke-width="0.2" transform="translate(152.51 259.2) rotate(-90) translate(0 1.51)">8312</text>
<rect x="156.68" y="253.7" width="8.34" height="11" fill="#fff" stroke="#7a7a7a" stroke-width="0.35"/>
<text x="0" y="0" font-size="4.2" text-anchor="middle" fill="#1a1a1a" font-weight="bold" stroke="#1a1a1a" stroke-width="0.2" transform="translate(160.85 259.2) rotate(-90) translate(0 1.51)">8314</text>
<rect x="165.02" y="253.7" width="8.34" height="11" fill="#fff" stroke="#7a7a7a" stroke-width="0.35"/>
<text x="0" y="0" font-size="4.2" text-anchor="middle" fill="#1a1a1a" font-weight="bold" stroke="#1a1a1a" stroke-width="0.2" transform="translate(169.19 259.2) rotate(-90) translate(0 1.51)">8316</text>
<rect x="173.36" y="253.7" width="8.34" height="11" fill="#fff" stroke="#7a7a7a" stroke-width="0.35"/>
<text x="0" y="0" font-size="4.2" text-anchor="middle" fill="#1a1a1a" font-weight="bold" stroke="#1a1a1a" stroke-width="0.2" transform="translate(177.53 259.2) rotate(-90) translate(0 1.51)">8318</text>
<rect x="185.3" y="214.3" width="13" height="50.4" fill="#fff" stroke="#555555" stroke-width="0.45"/>
<rect x="185.3" y="221.3" width="13" height="4" fill="#bfc4c7"/>
<rect x="185.3" y="225.3" width="13" height="22.7" fill="#0897dd"/>
<rect x="186.2" y="227.8" width="6.6" height="4.2" fill="#1d3140"/>
<line x1="187.85" y1="227.8" x2="187.85" y2="232" stroke="#0897dd" stroke-width="0.3"/>
<line x1="189.5" y1="227.8" x2="189.5" y2="232" stroke="#0897dd" stroke-width="0.3"/>
<line x1="191.15" y1="227.8" x2="191.15" y2="232" stroke="#0897dd" stroke-width="0.3"/>
<rect x="186.2" y="234.8" width="6.6" height="4.2" fill="#1d3140"/>
<line x1="187.85" y1="234.8" x2="187.85" y2="239" stroke="#0897dd" stroke-width="0.3"/>
<line x1="189.5" y1="234.8" x2="189.5" y2="239" stroke="#0897dd" stroke-width="0.3"/>
<line x1="191.15" y1="234.8" x2="191.15" y2="239" stroke="#0897dd" stroke-width="0.3"/>
<rect x="186.2" y="241.8" width="6.6" height="4.2" fill="#1d3140"/>
<line x1="187.85" y1="241.8" x2="187.85" y2="246" stroke="#0897dd" stroke-width="0.3"/>
<line x1="189.5" y1="241.8" x2="189.5" y2="246" stroke="#0897dd" stroke-width="0.3"/>
<line x1="191.15" y1="241.8" x2="191.15" y2="246" stroke="#0897dd" stroke-width="0.3"/>
<rect x="185.3" y="248" width="3.4" height="16.7" fill="#bfc4c7"/>
<rect x="188.7" y="248" width="9.6" height="3" fill="#bfc4c7"/>
<rect x="188.7" y="251" width="9.6" height="13.7" fill="#fff" stroke="#7a7a7a" stroke-width="0.35"/>
<text x="0" y="0" font-size="4.4" text-anchor="middle" fill="#1a1a1a" font-weight="bold" stroke="#1a1a1a" stroke-width="0.3" transform="translate(193.5 257.8) rotate(-90) translate(0 1.58)">8229</text>
<rect x="185.3" y="214.3" width="13" height="50.4" fill="none" stroke="#555555" stroke-width="0.45"/>
<rect x="198.3" y="242" width="13.4" height="5.3" fill="#bfc4c7"/>
<rect x="199" y="255.3" width="7.3" height="9.4" fill="#bfc4c7"/>
<line x1="198.3" y1="264.7" x2="211.7" y2="264.7" stroke="#555555" stroke-width="0.45"/>
<line x1="206.3" y1="251" x2="211.7" y2="251" stroke="#7a7a7a" stroke-width="0.35"/>
<rect x="203.7" y="214.3" width="103.1" height="23.2" fill="#fff" stroke="#555555" stroke-width="0.45"/>
<line x1="211.63" y1="214.3" x2="211.63" y2="237.5" stroke="#7a7a7a" stroke-width="0.35"/>
<line x1="219.56" y1="214.3" x2="219.56" y2="237.5" stroke="#7a7a7a" stroke-width="0.35"/>
<line x1="227.49" y1="214.3" x2="227.49" y2="237.5" stroke="#7a7a7a" stroke-width="0.35"/>
<line x1="235.42" y1="214.3" x2="235.42" y2="237.5" stroke="#7a7a7a" stroke-width="0.35"/>
<line x1="243.35" y1="214.3" x2="243.35" y2="237.5" stroke="#7a7a7a" stroke-width="0.35"/>
<line x1="251.28" y1="214.3" x2="251.28" y2="237.5" stroke="#7a7a7a" stroke-width="0.35"/>
<line x1="259.22" y1="214.3" x2="259.22" y2="237.5" stroke="#7a7a7a" stroke-width="0.35"/>
<line x1="267.15" y1="214.3" x2="267.15" y2="237.5" stroke="#7a7a7a" stroke-width="0.35"/>
<line x1="275.08" y1="214.3" x2="275.08" y2="237.5" stroke="#7a7a7a" stroke-width="0.35"/>
<line x1="283.01" y1="214.3" x2="283.01" y2="237.5" stroke="#7a7a7a" stroke-width="0.35"/>
<line x1="290.94" y1="214.3" x2="290.94" y2="237.5" stroke="#7a7a7a" stroke-width="0.35"/>
<line x1="298.87" y1="214.3" x2="298.87" y2="237.5" stroke="#7a7a7a" stroke-width="0.35"/>
<text x="0" y="0" font-size="4.7" text-anchor="middle" fill="#1a1a1a" font-weight="bold" stroke="#1a1a1a" stroke-width="0.14" transform="translate(207.67 220.15) rotate(-90) translate(0 1.69)">8321</text>
<text x="0" y="0" font-size="4.7" text-anchor="middle" fill="#1a1a1a" font-weight="bold" stroke="#1a1a1a" stroke-width="0.14" transform="translate(207.67 231.75) rotate(-90) translate(0 1.69)">8314</text>
<text x="0" y="0" font-size="4.7" text-anchor="middle" fill="#1a1a1a" font-weight="bold" stroke="#1a1a1a" stroke-width="0.14" transform="translate(215.6 220.15) rotate(-90) translate(0 1.69)">8323</text>
<text x="0" y="0" font-size="4.7" text-anchor="middle" fill="#1a1a1a" font-weight="bold" stroke="#1a1a1a" stroke-width="0.14" transform="translate(215.6 231.75) rotate(-90) translate(0 1.69)">8316</text>
<text x="0" y="0" font-size="4.7" text-anchor="middle" fill="#1a1a1a" font-weight="bold" stroke="#1a1a1a" stroke-width="0.14" transform="translate(223.53 220.15) rotate(-90) translate(0 1.69)">8325</text>
<text x="0" y="0" font-size="4.7" text-anchor="middle" fill="#1a1a1a" font-weight="bold" stroke="#1a1a1a" stroke-width="0.14" transform="translate(223.53 231.75) rotate(-90) translate(0 1.69)">8318</text>
<text x="0" y="0" font-size="4.7" text-anchor="middle" fill="#1a1a1a" font-weight="bold" stroke="#1a1a1a" stroke-width="0.14" transform="translate(231.46 220.15) rotate(-90) translate(0 1.69)">8327</text>
<text x="0" y="0" font-size="4.7" text-anchor="middle" fill="#1a1a1a" font-weight="bold" stroke="#1a1a1a" stroke-width="0.14" transform="translate(231.46 231.75) rotate(-90) translate(0 1.69)">8320</text>
<text x="0" y="0" font-size="4.7" text-anchor="middle" fill="#1a1a1a" font-weight="bold" stroke="#1a1a1a" stroke-width="0.14" transform="translate(239.39 220.15) rotate(-90) translate(0 1.69)">8329</text>
<text x="0" y="0" font-size="4.7" text-anchor="middle" fill="#1a1a1a" font-weight="bold" stroke="#1a1a1a" stroke-width="0.14" transform="translate(239.39 231.75) rotate(-90) translate(0 1.69)">8322</text>
<text x="0" y="0" font-size="4.7" text-anchor="middle" fill="#1a1a1a" font-weight="bold" stroke="#1a1a1a" stroke-width="0.14" transform="translate(247.32 220.15) rotate(-90) translate(0 1.69)">8331</text>
<text x="0" y="0" font-size="4.7" text-anchor="middle" fill="#1a1a1a" font-weight="bold" stroke="#1a1a1a" stroke-width="0.14" transform="translate(247.32 231.75) rotate(-90) translate(0 1.69)">8324</text>
<text x="0" y="0" font-size="4.7" text-anchor="middle" fill="#1a1a1a" font-weight="bold" stroke="#1a1a1a" stroke-width="0.14" transform="translate(255.25 220.15) rotate(-90) translate(0 1.69)">8333</text>
<text x="0" y="0" font-size="4.7" text-anchor="middle" fill="#1a1a1a" font-weight="bold" stroke="#1a1a1a" stroke-width="0.14" transform="translate(255.25 231.75) rotate(-90) translate(0 1.69)">8326</text>
<text x="0" y="0" font-size="4.7" text-anchor="middle" fill="#1a1a1a" font-weight="bold" stroke="#1a1a1a" stroke-width="0.14" transform="translate(263.18 220.15) rotate(-90) translate(0 1.69)">8335</text>
<text x="0" y="0" font-size="4.7" text-anchor="middle" fill="#1a1a1a" font-weight="bold" stroke="#1a1a1a" stroke-width="0.14" transform="translate(263.18 231.75) rotate(-90) translate(0 1.69)">8328</text>
<text x="0" y="0" font-size="4.7" text-anchor="middle" fill="#1a1a1a" font-weight="bold" stroke="#1a1a1a" stroke-width="0.14" transform="translate(271.11 220.15) rotate(-90) translate(0 1.69)">8337</text>
<text x="0" y="0" font-size="4.7" text-anchor="middle" fill="#1a1a1a" font-weight="bold" stroke="#1a1a1a" stroke-width="0.14" transform="translate(271.11 231.75) rotate(-90) translate(0 1.69)">8330</text>
<text x="0" y="0" font-size="4.7" text-anchor="middle" fill="#1a1a1a" font-weight="bold" stroke="#1a1a1a" stroke-width="0.14" transform="translate(279.04 220.15) rotate(-90) translate(0 1.69)">8339</text>
<text x="0" y="0" font-size="4.7" text-anchor="middle" fill="#1a1a1a" font-weight="bold" stroke="#1a1a1a" stroke-width="0.14" transform="translate(279.04 231.75) rotate(-90) translate(0 1.69)">8332</text>
<text x="0" y="0" font-size="4.7" text-anchor="middle" fill="#1a1a1a" font-weight="bold" stroke="#1a1a1a" stroke-width="0.14" transform="translate(286.97 220.15) rotate(-90) translate(0 1.69)">8341</text>
<text x="0" y="0" font-size="4.7" text-anchor="middle" fill="#1a1a1a" font-weight="bold" stroke="#1a1a1a" stroke-width="0.14" transform="translate(286.97 231.75) rotate(-90) translate(0 1.69)">8333</text>
<text x="0" y="0" font-size="4.7" text-anchor="middle" fill="#1a1a1a" font-weight="bold" stroke="#1a1a1a" stroke-width="0.14" transform="translate(294.9 220.15) rotate(-90) translate(0 1.69)">8343</text>
<text x="0" y="0" font-size="4.7" text-anchor="middle" fill="#1a1a1a" font-weight="bold" stroke="#1a1a1a" stroke-width="0.14" transform="translate(294.9 231.75) rotate(-90) translate(0 1.69)">8335</text>
<text x="0" y="0" font-size="4.7" text-anchor="middle" fill="#1a1a1a" font-weight="bold" stroke="#1a1a1a" stroke-width="0.14" transform="translate(302.83 220.15) rotate(-90) translate(0 1.69)">8345</text>
<text x="0" y="0" font-size="4.7" text-anchor="middle" fill="#1a1a1a" font-weight="bold" stroke="#1a1a1a" stroke-width="0.14" transform="translate(302.83 231.75) rotate(-90) translate(0 1.69)">8337</text>
<rect x="211.7" y="241.4" width="95.1" height="23.1" fill="#fff" stroke="#555555" stroke-width="0.45"/>
<line x1="211.7" y1="253.3" x2="306.8" y2="253.3" stroke="#7a7a7a" stroke-width="0.35"/>
<line x1="219.62" y1="241.4" x2="219.62" y2="264.5" stroke="#7a7a7a" stroke-width="0.35"/>
<line x1="227.55" y1="241.4" x2="227.55" y2="264.5" stroke="#7a7a7a" stroke-width="0.35"/>
<line x1="235.47" y1="241.4" x2="235.47" y2="264.5" stroke="#7a7a7a" stroke-width="0.35"/>
<line x1="243.4" y1="241.4" x2="243.4" y2="264.5" stroke="#7a7a7a" stroke-width="0.35"/>
<line x1="251.32" y1="241.4" x2="251.32" y2="264.5" stroke="#7a7a7a" stroke-width="0.35"/>
<line x1="259.25" y1="241.4" x2="259.25" y2="264.5" stroke="#7a7a7a" stroke-width="0.35"/>
<line x1="267.18" y1="241.4" x2="267.18" y2="264.5" stroke="#7a7a7a" stroke-width="0.35"/>
<line x1="275.1" y1="241.4" x2="275.1" y2="264.5" stroke="#7a7a7a" stroke-width="0.35"/>
<line x1="283.02" y1="241.4" x2="283.02" y2="264.5" stroke="#7a7a7a" stroke-width="0.35"/>
<line x1="290.95" y1="241.4" x2="290.95" y2="264.5" stroke="#7a7a7a" stroke-width="0.35"/>
<line x1="298.88" y1="241.4" x2="298.88" y2="264.5" stroke="#7a7a7a" stroke-width="0.35"/>
<text x="0" y="0" font-size="4.7" text-anchor="middle" fill="#1a1a1a" font-weight="bold" stroke="#1a1a1a" stroke-width="0.14" transform="translate(215.66 247.35) rotate(-90) translate(0 1.69)">8300</text>
<text x="0" y="0" font-size="4.7" text-anchor="middle" fill="#1a1a1a" font-weight="bold" stroke="#1a1a1a" stroke-width="0.14" transform="translate(215.66 258.9) rotate(-90) translate(0 1.69)">8334</text>
<text x="0" y="0" font-size="4.7" text-anchor="middle" fill="#1a1a1a" font-weight="bold" stroke="#1a1a1a" stroke-width="0.14" transform="translate(223.59 247.35) rotate(-90) translate(0 1.69)">8302</text>
<text x="0" y="0" font-size="4.7" text-anchor="middle" fill="#1a1a1a" font-weight="bold" stroke="#1a1a1a" stroke-width="0.14" transform="translate(223.59 258.9) rotate(-90) translate(0 1.69)">8336</text>
<text x="0" y="0" font-size="4.7" text-anchor="middle" fill="#1a1a1a" font-weight="bold" stroke="#1a1a1a" stroke-width="0.14" transform="translate(231.51 247.35) rotate(-90) translate(0 1.69)">8304</text>
<text x="0" y="0" font-size="4.7" text-anchor="middle" fill="#1a1a1a" font-weight="bold" stroke="#1a1a1a" stroke-width="0.14" transform="translate(231.51 258.9) rotate(-90) translate(0 1.69)">8338</text>
<text x="0" y="0" font-size="4.7" text-anchor="middle" fill="#1a1a1a" font-weight="bold" stroke="#1a1a1a" stroke-width="0.14" transform="translate(239.44 247.35) rotate(-90) translate(0 1.69)">8306</text>
<text x="0" y="0" font-size="4.7" text-anchor="middle" fill="#1a1a1a" font-weight="bold" stroke="#1a1a1a" stroke-width="0.14" transform="translate(239.44 258.9) rotate(-90) translate(0 1.69)">8340</text>
<text x="0" y="0" font-size="4.7" text-anchor="middle" fill="#1a1a1a" font-weight="bold" stroke="#1a1a1a" stroke-width="0.14" transform="translate(247.36 247.35) rotate(-90) translate(0 1.69)">8308</text>
<text x="0" y="0" font-size="4.7" text-anchor="middle" fill="#1a1a1a" font-weight="bold" stroke="#1a1a1a" stroke-width="0.14" transform="translate(247.36 258.9) rotate(-90) translate(0 1.69)">8342</text>
<text x="0" y="0" font-size="4.7" text-anchor="middle" fill="#1a1a1a" font-weight="bold" stroke="#1a1a1a" stroke-width="0.14" transform="translate(255.29 247.35) rotate(-90) translate(0 1.69)">8310</text>
<text x="0" y="0" font-size="4.7" text-anchor="middle" fill="#1a1a1a" font-weight="bold" stroke="#1a1a1a" stroke-width="0.14" transform="translate(255.29 258.9) rotate(-90) translate(0 1.69)">8344</text>
<text x="0" y="0" font-size="4.7" text-anchor="middle" fill="#1a1a1a" font-weight="bold" stroke="#1a1a1a" stroke-width="0.14" transform="translate(263.21 247.35) rotate(-90) translate(0 1.69)">8312</text>
<text x="0" y="0" font-size="4.7" text-anchor="middle" fill="#1a1a1a" font-weight="bold" stroke="#1a1a1a" stroke-width="0.14" transform="translate(263.21 258.9) rotate(-90) translate(0 1.69)">8346</text>
<text x="0" y="0" font-size="4.7" text-anchor="middle" fill="#1a1a1a" font-weight="bold" stroke="#1a1a1a" stroke-width="0.14" transform="translate(271.14 247.35) rotate(-90) translate(0 1.69)">8314</text>
<text x="0" y="0" font-size="4.7" text-anchor="middle" fill="#1a1a1a" font-weight="bold" stroke="#1a1a1a" stroke-width="0.14" transform="translate(271.14 258.9) rotate(-90) translate(0 1.69)">8348</text>
<text x="0" y="0" font-size="4.7" text-anchor="middle" fill="#1a1a1a" font-weight="bold" stroke="#1a1a1a" stroke-width="0.14" transform="translate(279.06 247.35) rotate(-90) translate(0 1.69)">8316</text>
<text x="0" y="0" font-size="4.7" text-anchor="middle" fill="#1a1a1a" font-weight="bold" stroke="#1a1a1a" stroke-width="0.14" transform="translate(279.06 258.9) rotate(-90) translate(0 1.69)">8350</text>
<text x="0" y="0" font-size="4.7" text-anchor="middle" fill="#1a1a1a" font-weight="bold" stroke="#1a1a1a" stroke-width="0.14" transform="translate(286.99 247.35) rotate(-90) translate(0 1.69)">8318</text>
<text x="0" y="0" font-size="4.7" text-anchor="middle" fill="#1a1a1a" font-weight="bold" stroke="#1a1a1a" stroke-width="0.14" transform="translate(286.99 258.9) rotate(-90) translate(0 1.69)">8352</text>
<text x="0" y="0" font-size="4.7" text-anchor="middle" fill="#1a1a1a" font-weight="bold" stroke="#1a1a1a" stroke-width="0.14" transform="translate(294.91 247.35) rotate(-90) translate(0 1.69)">8320</text>
<text x="0" y="0" font-size="4.7" text-anchor="middle" fill="#1a1a1a" font-weight="bold" stroke="#1a1a1a" stroke-width="0.14" transform="translate(294.91 258.9) rotate(-90) translate(0 1.69)">8344</text>
<text x="0" y="0" font-size="4.7" text-anchor="middle" fill="#1a1a1a" font-weight="bold" stroke="#1a1a1a" stroke-width="0.14" transform="translate(302.84 247.35) rotate(-90) translate(0 1.69)">8322</text>
<text x="0" y="0" font-size="4.7" text-anchor="middle" fill="#1a1a1a" font-weight="bold" stroke="#1a1a1a" stroke-width="0.14" transform="translate(302.84 258.9) rotate(-90) translate(0 1.69)">8346</text>
<polyline points="312.2,228.1 332.6,228.1" fill="none" stroke="#555555" stroke-width="0.45"/>
<rect x="312.7" y="207" width="9.7" height="21.1" fill="#fff" stroke="#7a7a7a" stroke-width="0.4"/>
<text x="0" y="0" font-size="4.5" text-anchor="middle" fill="#1a1a1a" font-weight="bold" stroke="#1a1a1a" stroke-width="0.2" transform="translate(317.55 217.55) rotate(-90) translate(0 1.62)">8153</text>
<rect x="322.4" y="207" width="10.2" height="21.1" fill="#fff" stroke="#7a7a7a" stroke-width="0.4"/>
<text x="0" y="0" font-size="4.5" text-anchor="middle" fill="#1a1a1a" font-weight="bold" stroke="#1a1a1a" stroke-width="0.2" transform="translate(327.5 217.55) rotate(-90) translate(0 1.62)">8155</text>
<polyline points="312.7,207 328.5,207 328.5,209.3 336.6,209.3" fill="none" stroke="#8a8a8a" stroke-width="0.8"/>
<rect x="328.5" y="209" width="8.5" height="1.3" fill="#2a2a2a"/>
<rect x="329" y="210.3" width="0.7" height="1.7" fill="#555"/>
<rect x="330.35" y="210.3" width="0.7" height="1.7" fill="#555"/>
<rect x="331.7" y="210.3" width="0.7" height="1.7" fill="#555"/>
<rect x="333.05" y="210.3" width="0.7" height="1.7" fill="#555"/>
<rect x="334.4" y="210.3" width="0.7" height="1.7" fill="#555"/>
<rect x="335.75" y="210.3" width="0.7" height="1.7" fill="#555"/>
<rect x="332.6" y="212.3" width="9.1" height="18" fill="#fff" stroke="#7a7a7a" stroke-width="0.4"/>
<text x="0" y="0" font-size="4.5" text-anchor="middle" fill="#1a1a1a" font-weight="bold" stroke="#1a1a1a" stroke-width="0.2" transform="translate(337.15 221.3) rotate(-90) translate(0 1.62)">8157</text>
<rect x="341.7" y="212.3" width="9.3" height="18" fill="#fff" stroke="#7a7a7a" stroke-width="0.4"/>
<text x="0" y="0" font-size="4.5" text-anchor="middle" fill="#1a1a1a" font-weight="bold" stroke="#1a1a1a" stroke-width="0.2" transform="translate(346.35 221.3) rotate(-90) translate(0 1.62)">8159</text>
<rect x="351" y="212.3" width="9.6" height="18" fill="#fff" stroke="#7a7a7a" stroke-width="0.4"/>
<text x="0" y="0" font-size="4.5" text-anchor="middle" fill="#1a1a1a" font-weight="bold" stroke="#1a1a1a" stroke-width="0.2" transform="translate(355.8 221.3) rotate(-90) translate(0 1.62)">8161</text>
<rect x="360.6" y="212.3" width="9.1" height="18" fill="#fff" stroke="#7a7a7a" stroke-width="0.4"/>
<text x="0" y="0" font-size="4.5" text-anchor="middle" fill="#1a1a1a" font-weight="bold" stroke="#1a1a1a" stroke-width="0.2" transform="translate(365.15 221.3) rotate(-90) translate(0 1.62)">8163</text>
<rect x="369.7" y="212.3" width="9" height="18" fill="#fff" stroke="#7a7a7a" stroke-width="0.4"/>
<text x="0" y="0" font-size="4.5" text-anchor="middle" fill="#1a1a1a" font-weight="bold" stroke="#1a1a1a" stroke-width="0.2" transform="translate(374.2 221.3) rotate(-90) translate(0 1.62)">8165</text>
<rect x="378.7" y="212.3" width="9.7" height="18" fill="#fff" stroke="#7a7a7a" stroke-width="0.4"/>
<text x="0" y="0" font-size="4.5" text-anchor="middle" fill="#1a1a1a" font-weight="bold" stroke="#1a1a1a" stroke-width="0.2" transform="translate(383.55 221.3) rotate(-90) translate(0 1.62)">8167</text>
<rect x="388.4" y="212.3" width="9" height="18" fill="#fff" stroke="#7a7a7a" stroke-width="0.4"/>
<text x="0" y="0" font-size="4.5" text-anchor="middle" fill="#1a1a1a" font-weight="bold" stroke="#1a1a1a" stroke-width="0.2" transform="translate(392.9 221.3) rotate(-90) translate(0 1.62)">8169</text>
<rect x="397.4" y="212.3" width="9.1" height="18" fill="#fff" stroke="#7a7a7a" stroke-width="0.4"/>
<text x="0" y="0" font-size="4.5" text-anchor="middle" fill="#1a1a1a" font-weight="bold" stroke="#1a1a1a" stroke-width="0.2" transform="translate(401.95 221.3) rotate(-90) translate(0 1.62)">8171</text>
<rect x="406.5" y="212.3" width="9" height="18" fill="#fff" stroke="#7a7a7a" stroke-width="0.4"/>
<text x="0" y="0" font-size="4.5" text-anchor="middle" fill="#1a1a1a" font-weight="bold" stroke="#1a1a1a" stroke-width="0.2" transform="translate(411 221.3) rotate(-90) translate(0 1.62)">8173</text>
<rect x="415.5" y="212.3" width="9.5" height="18" fill="#fff" stroke="#7a7a7a" stroke-width="0.4"/>
<text x="0" y="0" font-size="4.5" text-anchor="middle" fill="#1a1a1a" font-weight="bold" stroke="#1a1a1a" stroke-width="0.2" transform="translate(420.25 221.3) rotate(-90) translate(0 1.62)">8175</text>
<rect x="425" y="212.3" width="9.5" height="18" fill="#fff" stroke="#7a7a7a" stroke-width="0.4"/>
<text x="0" y="0" font-size="4.5" text-anchor="middle" fill="#1a1a1a" font-weight="bold" stroke="#1a1a1a" stroke-width="0.2" transform="translate(429.75 221.3) rotate(-90) translate(0 1.62)">8177</text>
<rect x="434.5" y="212.3" width="9.2" height="18" fill="#fff" stroke="#7a7a7a" stroke-width="0.4"/>
<text x="0" y="0" font-size="4.5" text-anchor="middle" fill="#1a1a1a" font-weight="bold" stroke="#1a1a1a" stroke-width="0.2" transform="translate(439.1 221.3) rotate(-90) translate(0 1.62)">8179</text>
<rect x="443.7" y="212.3" width="9" height="18" fill="#fff" stroke="#7a7a7a" stroke-width="0.4"/>
<text x="0" y="0" font-size="4.5" text-anchor="middle" fill="#1a1a1a" font-weight="bold" stroke="#1a1a1a" stroke-width="0.2" transform="translate(448.2 221.3) rotate(-90) translate(0 1.62)">8181</text>
<rect x="452.7" y="212.3" width="8.4" height="18" fill="#fff" stroke="#7a7a7a" stroke-width="0.4"/>
<text x="0" y="0" font-size="4.5" text-anchor="middle" fill="#1a1a1a" font-weight="bold" stroke="#1a1a1a" stroke-width="0.2" transform="translate(456.9 221.3) rotate(-90) translate(0 1.62)">8183</text>
<rect x="333.4" y="250.5" width="8.3" height="17.4" fill="#fff" stroke="#7a7a7a" stroke-width="0.4"/>
<text x="0" y="0" font-size="4.5" text-anchor="middle" fill="#1a1a1a" font-weight="bold" stroke="#1a1a1a" stroke-width="0.2" transform="translate(337.55 259.2) rotate(90) translate(0 1.62)">8150</text>
<rect x="341.7" y="250.5" width="9.3" height="17.4" fill="#fff" stroke="#7a7a7a" stroke-width="0.4"/>
<text x="0" y="0" font-size="4.5" text-anchor="middle" fill="#1a1a1a" font-weight="bold" stroke="#1a1a1a" stroke-width="0.2" transform="translate(346.35 259.2) rotate(90) translate(0 1.62)">8152</text>
<rect x="351" y="250.5" width="9.6" height="17.4" fill="#fff" stroke="#7a7a7a" stroke-width="0.4"/>
<text x="0" y="0" font-size="4.5" text-anchor="middle" fill="#1a1a1a" font-weight="bold" stroke="#1a1a1a" stroke-width="0.2" transform="translate(355.8 259.2) rotate(90) translate(0 1.62)">8154</text>
<rect x="360.6" y="250.5" width="9.1" height="17.4" fill="#fff" stroke="#7a7a7a" stroke-width="0.4"/>
<text x="0" y="0" font-size="4.5" text-anchor="middle" fill="#1a1a1a" font-weight="bold" stroke="#1a1a1a" stroke-width="0.2" transform="translate(365.15 259.2) rotate(90) translate(0 1.62)">8156</text>
<rect x="369.7" y="250.5" width="9" height="17.4" fill="#fff" stroke="#7a7a7a" stroke-width="0.4"/>
<text x="0" y="0" font-size="4.5" text-anchor="middle" fill="#1a1a1a" font-weight="bold" stroke="#1a1a1a" stroke-width="0.2" transform="translate(374.2 259.2) rotate(90) translate(0 1.62)">8158</text>
<rect x="378.7" y="250.5" width="9.7" height="17.4" fill="#fff" stroke="#7a7a7a" stroke-width="0.4"/>
<text x="0" y="0" font-size="4.5" text-anchor="middle" fill="#1a1a1a" font-weight="bold" stroke="#1a1a1a" stroke-width="0.2" transform="translate(383.55 259.2) rotate(90) translate(0 1.62)">8160</text>
<rect x="388.4" y="250.5" width="9" height="17.4" fill="#fff" stroke="#7a7a7a" stroke-width="0.4"/>
<text x="0" y="0" font-size="4.5" text-anchor="middle" fill="#1a1a1a" font-weight="bold" stroke="#1a1a1a" stroke-width="0.2" transform="translate(392.9 259.2) rotate(90) translate(0 1.62)">8162</text>
<rect x="397.4" y="250.5" width="9.1" height="17.4" fill="#fff" stroke="#7a7a7a" stroke-width="0.4"/>
<text x="0" y="0" font-size="4.5" text-anchor="middle" fill="#1a1a1a" font-weight="bold" stroke="#1a1a1a" stroke-width="0.2" transform="translate(401.95 259.2) rotate(90) translate(0 1.62)">8164</text>
<rect x="406.5" y="250.5" width="9" height="17.4" fill="#fff" stroke="#7a7a7a" stroke-width="0.4"/>
<text x="0" y="0" font-size="4.5" text-anchor="middle" fill="#1a1a1a" font-weight="bold" stroke="#1a1a1a" stroke-width="0.2" transform="translate(411 259.2) rotate(90) translate(0 1.62)">8166</text>
<rect x="415.5" y="250.5" width="9.5" height="17.4" fill="#fff" stroke="#7a7a7a" stroke-width="0.4"/>
<text x="0" y="0" font-size="4.5" text-anchor="middle" fill="#1a1a1a" font-weight="bold" stroke="#1a1a1a" stroke-width="0.2" transform="translate(420.25 259.2) rotate(90) translate(0 1.62)">8168</text>
<rect x="425" y="250.5" width="9.5" height="17.4" fill="#fff" stroke="#7a7a7a" stroke-width="0.4"/>
<text x="0" y="0" font-size="4.5" text-anchor="middle" fill="#1a1a1a" font-weight="bold" stroke="#1a1a1a" stroke-width="0.2" transform="translate(429.75 259.2) rotate(90) translate(0 1.62)">8170</text>
<rect x="434.5" y="250.5" width="9.2" height="17.4" fill="#fff" stroke="#7a7a7a" stroke-width="0.4"/>
<text x="0" y="0" font-size="4.5" text-anchor="middle" fill="#1a1a1a" font-weight="bold" stroke="#1a1a1a" stroke-width="0.2" transform="translate(439.1 259.2) rotate(90) translate(0 1.62)">8172</text>
<rect x="443.7" y="250.5" width="9" height="17.4" fill="#fff" stroke="#7a7a7a" stroke-width="0.4"/>
<text x="0" y="0" font-size="4.5" text-anchor="middle" fill="#1a1a1a" font-weight="bold" stroke="#1a1a1a" stroke-width="0.2" transform="translate(448.2 259.2) rotate(90) translate(0 1.62)">8174</text>
<rect x="452.7" y="250.5" width="8.4" height="17.4" fill="#fff" stroke="#7a7a7a" stroke-width="0.4"/>
<text x="0" y="0" font-size="4.5" text-anchor="middle" fill="#1a1a1a" font-weight="bold" stroke="#1a1a1a" stroke-width="0.2" transform="translate(456.9 259.2) rotate(90) translate(0 1.62)">8176</text>
<rect x="329.8" y="249.8" width="3.6" height="16.4" fill="#bfc4c7" stroke="#7a7a7a" stroke-width="0.3"/>
<rect x="327.7" y="266.5" width="6.8" height="2.8" fill="#fff" stroke="#333" stroke-width="0.3"/>
<line x1="328.4" y1="266.7" x2="328.4" y2="269.1" stroke="#222" stroke-width="0.4"/>
<line x1="329.7" y1="266.7" x2="329.7" y2="269.1" stroke="#222" stroke-width="0.4"/>
<line x1="331" y1="266.7" x2="331" y2="269.1" stroke="#222" stroke-width="0.4"/>
<line x1="332.3" y1="266.7" x2="332.3" y2="269.1" stroke="#222" stroke-width="0.4"/>
<line x1="333.6" y1="266.7" x2="333.6" y2="269.1" stroke="#222" stroke-width="0.4"/>
<polyline points="312.1,272.2 327.7,272.2 327.7,266.5" fill="none" stroke="#555555" stroke-width="0.45"/>
<line x1="312.1" y1="265.4" x2="320.4" y2="265.4" stroke="#999" stroke-width="0.35"/>
<rect x="311.7" y="232.6" width="16.3" height="4.8" fill="#bfc4c7"/>
<rect x="311.5" y="237.4" width="14.5" height="23.6" fill="#f0663a"/>
<rect x="313.5" y="238.6" width="5" height="1.6" fill="#3a2010"/>
<rect x="316.5" y="243.5" width="5" height="1.6" fill="#3a2010"/>
<rect x="316.5" y="256.5" width="5" height="1.6" fill="#3a2010"/>
<rect x="330.5" y="235" width="10.1" height="9.2" fill="#f0663a"/>
<rect x="332" y="238.6" width="6.5" height="1.8" fill="#3a2010"/>
<rect x="340.6" y="235" width="7.6" height="11" fill="#fff" stroke="#7a7a7a" stroke-width="0.4"/>
<text x="0" y="0" font-size="3.3" text-anchor="middle" fill="#1a1a1a" font-weight="bold" stroke="#1a1a1a" stroke-width="0.2" transform="translate(344.4 240.5) rotate(-90) translate(0 1.19)">8247</text>
<rect x="348.2" y="235" width="7.1" height="11" fill="#fff" stroke="#7a7a7a" stroke-width="0.4"/>
<text x="0" y="0" font-size="3.3" text-anchor="middle" fill="#1a1a1a" font-weight="bold" stroke="#1a1a1a" stroke-width="0.2" transform="translate(351.75 240.5) rotate(-90) translate(0 1.19)">8249</text>
<rect x="355.3" y="235.1" width="97.9" height="11.3" fill="#bfc4c7" stroke="#7a7a7a" stroke-width="0.4"/>
<rect x="363.6" y="195" width="39.9" height="15.8" fill="#bfc4c7" stroke="#8d8f91" stroke-width="0.45" rx="7.9"/>
<rect x="363.6" y="270" width="39.9" height="16" fill="#bfc4c7" stroke="#8d8f91" stroke-width="0.45" rx="7.9"/>
<rect x="407.4" y="195" width="39" height="15.8" fill="#bfc4c7" stroke="#8d8f91" stroke-width="0.45" rx="7.9"/>
<rect x="407.4" y="270" width="39" height="16" fill="#bfc4c7" stroke="#8d8f91" stroke-width="0.45" rx="7.9"/>
<path d="M461.6,212.3 L461.6,204.4 L470.3,195.5 L577.5,195.5 L577.5,285.3 L470.3,285.3 L461.6,274.9 L461.6,267.9" fill="#fff" stroke="#555555" stroke-width="0.75"/>
<rect x="461.6" y="230.3" width="4" height="20.2" fill="#fff"/>
<polygon points="555.4,195.5 577.5,195.5 577.5,285.3 555.4,285.3 560,278.2 574.2,278.2 574.2,200.7 560,200.7" fill="#bfc4c7" stroke="#9a9da0" stroke-width="0.35"/>
<line x1="577.5" y1="195.5" x2="577.5" y2="285.3" stroke="#555555" stroke-width="0.75"/>
<polygon points="465.6,212.6 483.3,212.6 497.3,229.5 497.3,253.5 483.1,266.8 465.6,266.8" fill="#bfc4c7" stroke="#8d8f91" stroke-width="0.35"/>
<line x1="486" y1="267.5" x2="497.3" y2="256.5" stroke="#888" stroke-width="0.4"/>
<rect x="467.9" y="212.6" width="11.7" height="9.4" fill="#fff" stroke="#7a7a7a" stroke-width="0.35"/>
<rect x="467.9" y="258.4" width="11.7" height="9.4" fill="#fff" stroke="#7a7a7a" stroke-width="0.35"/>
<rect x="479.6" y="224.4" width="17.7" height="11.7" fill="#fff" stroke="#7a7a7a" stroke-width="0.35"/>
<rect x="482.7" y="230.2" width="0.8" height="4.8" fill="#111"/>
<rect x="484.2" y="230.2" width="0.8" height="4.8" fill="#111"/>
<rect x="485.7" y="230.2" width="0.8" height="4.8" fill="#111"/>
<rect x="487.2" y="230.2" width="0.8" height="4.8" fill="#111"/>
<rect x="488.7" y="230.2" width="0.8" height="4.8" fill="#111"/>
<rect x="490.2" y="230.2" width="0.8" height="4.8" fill="#111"/>
<rect x="463.2" y="236.1" width="10.1" height="10.6" fill="#f3ea1a"/>
<rect x="464.5" y="243" width="7" height="2.3" fill="#4a4510"/>
<line x1="466.8" y1="243" x2="466.8" y2="245.3" stroke="#f3ea1a" stroke-width="0.3"/>
<line x1="469.2" y1="243" x2="469.2" y2="245.3" stroke="#f3ea1a" stroke-width="0.3"/>
<rect x="448.5" y="210.3" width="31.5" height="2.3" fill="#fff" stroke="#666" stroke-width="0.3"/>
<rect x="449.3" y="210.6" width="0.7" height="1.7" fill="#222"/>
<rect x="450.65" y="210.6" width="0.7" height="1.7" fill="#222"/>
<rect x="452" y="210.6" width="0.7" height="1.7" fill="#222"/>
<rect x="453.35" y="210.6" width="0.7" height="1.7" fill="#222"/>
<rect x="454.7" y="210.6" width="0.7" height="1.7" fill="#222"/>
<rect x="456.05" y="210.6" width="0.7" height="1.7" fill="#222"/>
<rect x="457.4" y="210.6" width="0.7" height="1.7" fill="#222"/>
<rect x="468.8" y="210.6" width="0.75" height="1.7" fill="#222"/>
<rect x="470.3" y="210.6" width="0.75" height="1.7" fill="#222"/>
<rect x="471.8" y="210.6" width="0.75" height="1.7" fill="#222"/>
<rect x="473.3" y="210.6" width="0.75" height="1.7" fill="#222"/>
<rect x="474.8" y="210.6" width="0.75" height="1.7" fill="#222"/>
<rect x="476.3" y="210.6" width="0.75" height="1.7" fill="#222"/>
<rect x="477.8" y="210.6" width="0.75" height="1.7" fill="#222"/>
<rect x="448.5" y="267.6" width="31.5" height="2.3" fill="#fff" stroke="#666" stroke-width="0.3"/>
<rect x="449.3" y="267.9" width="0.7" height="1.7" fill="#222"/>
<rect x="450.65" y="267.9" width="0.7" height="1.7" fill="#222"/>
<rect x="452" y="267.9" width="0.7" height="1.7" fill="#222"/>
<rect x="453.35" y="267.9" width="0.7" height="1.7" fill="#222"/>
<rect x="454.7" y="267.9" width="0.7" height="1.7" fill="#222"/>
<rect x="456.05" y="267.9" width="0.7" height="1.7" fill="#222"/>
<rect x="457.4" y="267.9" width="0.7" height="1.7" fill="#222"/>
<rect x="468.8" y="267.9" width="0.75" height="1.7" fill="#222"/>
<rect x="470.3" y="267.9" width="0.75" height="1.7" fill="#222"/>
<rect x="471.8" y="267.9" width="0.75" height="1.7" fill="#222"/>
<rect x="473.3" y="267.9" width="0.75" height="1.7" fill="#222"/>
<rect x="474.8" y="267.9" width="0.75" height="1.7" fill="#222"/>
<rect x="476.3" y="267.9" width="0.75" height="1.7" fill="#222"/>
<rect x="477.8" y="267.9" width="0.75" height="1.7" fill="#222"/>
<path d="M515,228.4 L540,228.4 C546.5,228.4 550,233.5 550,240.5 C550,247.5 546.5,252.6 540,252.6 L515,252.6 Q513.2,252.6 513.2,250.6 L513.2,230.4 Q513.2,228.4 515,228.4 Z" fill="#fff" stroke="#777" stroke-width="0.45"/>
<rect x="516.5" y="232.1" width="25.4" height="14.6" fill="#fff" stroke="#555" stroke-width="0.45"/>
<text x="529.2" y="238.6" font-size="4.4" text-anchor="middle" fill="#1a1a1a" font-weight="bold" stroke="#1a1a1a" stroke-width="0.3">Swimming</text>
<text x="529.2" y="244.5" font-size="4.4" text-anchor="middle" fill="#1a1a1a" font-weight="bold" stroke="#1a1a1a" stroke-width="0.3">Pool</text>
<text x="493.7" y="265.2" font-size="5" text-anchor="start" fill="#1a1a1a" font-weight="bold" stroke="#1a1a1a" stroke-width="0.3">Atrium Bar</text>
<text x="33.5" y="241.4" font-size="8" text-anchor="start" fill="#1a1a1a" font-weight="bold" stroke="#1a1a1a" stroke-width="0.32" transform="translate(33.5 241.4) scale(0.91 1) translate(-33.5 -241.4)">Deck 8</text>
<path d="M84,341.3 L580.6,341.3 Q583.4,341.3 583.4,344 L583.4,426.3 Q583.4,429.2 580.6,429.2 L85,429.2 C75,429.2 69.6,424 69.2,412 L69,366 C69.5,350 74,341.5 84,341.3 Z" fill="#fff"/>
<path d="M120.7,355.5 C120,368 114,380 104,388 C96,394 84,397.5 70.5,397.8" fill="none" stroke="#444" stroke-width="0.5"/>
<path d="M132,359 L166,359 L166,373.7 L183.7,373.7 L183.7,394.6 L129,394.6 L125,396.3 L118.7,388.4 C124,382 129,372 132,359 Z" fill="#bfc4c7" stroke="#666" stroke-width="0.4"/>
<path d="M132,359 C129,372 124,382 118.7,388.4" fill="none" stroke="#444" stroke-width="0.5"/>
<path d="M166,373.7 L166,359.7 Q166,355.7 170,355.7 L180.7,355.7 Q184.7,355.7 184.7,359.7 L184.7,373.7 Z" fill="#fff" stroke="#666" stroke-width="0.4"/>
<line x1="175.3" y1="355.7" x2="175.3" y2="373.7" stroke="#666" stroke-width="0.4"/>
<text x="0" y="0" font-size="4" text-anchor="middle" fill="#1a1a1a" font-weight="bold" stroke="#1a1a1a" stroke-width="0.3" transform="translate(170.8 364.8) rotate(-90) translate(0 1.44)">Ladies</text>
<text x="0" y="0" font-size="4" text-anchor="middle" fill="#1a1a1a" font-weight="bold" stroke="#1a1a1a" stroke-width="0.3" transform="translate(180.1 364.8) rotate(-90) translate(0 1.44)">Gents</text>
<path d="M100,391.5 C97.5,386 102,381.2 107,381.8 C108.8,382.1 110,383 111,384.2 L122.7,397.9 C118.5,397.8 115,399.5 113.5,402 L112,405.4 Z" fill="#fff" stroke="#555" stroke-width="0.45"/>
<path d="M108,398.3 L115.6,392 L122.7,397.9 C118.5,397.8 115,399.5 113.5,402 L112,405.4 Z" fill="#bfc4c7" stroke="#666" stroke-width="0.35"/>
<path d="M103.5,390 C102.5,387 104.5,384.5 107,385 L113,391.5" fill="none" stroke="#bbb" stroke-width="0.35"/>
<path d="M145,398.3 L199.6,398.3 L199.6,417 L218.3,417 L218.3,429.2 L145,429.2 Z" fill="#bfc4c7" stroke="#666" stroke-width="0.4"/>
<rect x="188.3" y="369.4" width="11.3" height="23.9" fill="#0897dd"/>
<rect x="190" y="378.3" width="6.2" height="2.8" fill="#1d3140"/>
<line x1="193.1" y1="378.3" x2="193.1" y2="381.1" stroke="#0897dd" stroke-width="0.3"/>
<rect x="190" y="384.7" width="6.2" height="2.8" fill="#1d3140"/>
<line x1="193.1" y1="384.7" x2="193.1" y2="387.5" stroke="#0897dd" stroke-width="0.3"/>
<rect x="190" y="389" width="6.2" height="2.7" fill="#1d3140"/>
<line x1="193.1" y1="389" x2="193.1" y2="391.7" stroke="#0897dd" stroke-width="0.3"/>
<line x1="199.6" y1="393.3" x2="199.6" y2="398.3" stroke="#666" stroke-width="0.4"/>
<rect x="199.6" y="341.3" width="18.7" height="13.3" fill="#bfc4c7" stroke="#777" stroke-width="0.35"/>
<line x1="192.2" y1="363.3" x2="201.7" y2="363.3" stroke="#333" stroke-width="0.6"/>
<line x1="213.2" y1="363.3" x2="218.8" y2="363.3" stroke="#333" stroke-width="0.6"/>
<rect x="208.5" y="370.1" width="13.9" height="44.7" fill="#bfc4c7" stroke="#666" stroke-width="0.4"/>
<polygon points="222.4,373.5 211.4,381.7 211.4,405.4 222.4,411.5" fill="#fff"/>
<polyline points="222.4,376.3 213.6,383 213.6,404.2 222.4,409.2" fill="none" stroke="#999" stroke-width="0.35"/>
<polyline points="222.4,379.6 216.4,384.6 216.4,401.8 222.4,406.4" fill="none" stroke="#777" stroke-width="0.35"/>
<path d="M226.2,372.2 C230,366.5 236,364.5 242.8,364.5 C249.5,364.5 257,366.5 262.6,372.2 C265,380 265,388 263.8,396 C263,404 263.2,409 262.6,413.8 C257,419 250,420.7 242.8,420.7 C236,420.7 230,419 226.2,413.8 C225.6,409 226,404 225.8,400.3 L225.8,387.4 C226,382 225.5,377 226.2,372.2 Z" fill="#fff" stroke="#333" stroke-width="0.5"/>
<rect x="223" y="387.4" width="5.3" height="12.9" fill="#fff" stroke="#555" stroke-width="0.4" rx="1.5"/>
<line x1="238.7" y1="379.8" x2="250.7" y2="379.8" stroke="#9a9a9a" stroke-width="1"/>
<line x1="238.7" y1="407.9" x2="250.7" y2="407.9" stroke="#9a9a9a" stroke-width="1"/>
<line x1="262.6" y1="372.2" x2="270.3" y2="372.2" stroke="#444" stroke-width="0.45"/>
<path d="M270.3,377.4 L270.3,368.4 Q270.3,365 279.6,365 Q289,365 289,368.4 L289,385.7 L281.8,385.7 L281.8,429.2" fill="none" stroke="#444" stroke-width="0.45"/>
<line x1="270.3" y1="370.6" x2="289" y2="370.6" stroke="#888" stroke-width="0.35"/>
<line x1="270.3" y1="377.4" x2="281.8" y2="377.4" stroke="#444" stroke-width="0.45"/>
<line x1="281.8" y1="377.4" x2="281.8" y2="385.7" stroke="#444" stroke-width="0.45"/>
<path d="M281.8,397.2 C286,401 286,414 281.8,418" fill="none" stroke="#444" stroke-width="0.45"/>
<path d="M287,355.6 C291,360 304,361 308.2,355.6" fill="none" stroke="#333" stroke-width="0.6"/>
<path d="M309.4,341.3 C313,346 314.5,352 314,360" fill="none" stroke="#bbb" stroke-width="0.4"/>
<line x1="312" y1="380" x2="312" y2="429" stroke="#ccc" stroke-width="0.35"/>
<polyline points="315,352.5 330.6,352.5 330.6,358.3" fill="none" stroke="#444" stroke-width="0.4"/>
<rect x="331.8" y="354.9" width="0.9" height="1.9" fill="#333"/>
<rect x="333.35" y="354.9" width="0.9" height="1.9" fill="#333"/>
<rect x="334.9" y="354.9" width="0.9" height="1.9" fill="#333"/>
<rect x="336.45" y="354.9" width="0.9" height="1.9" fill="#333"/>
<rect x="293.2" y="369.5" width="15.2" height="14.2" fill="#fff" stroke="#555" stroke-width="0.4"/>
<rect x="308.4" y="369.5" width="16" height="14.2" fill="#fff" stroke="#555" stroke-width="0.4"/>
<path d="M304.6,383.7 C309,392 311.5,402 311.9,413.8" fill="none" stroke="#444" stroke-width="0.45"/>
<line x1="311.9" y1="413.8" x2="326.4" y2="413.8" stroke="#444" stroke-width="0.45"/>
<polygon points="315,384.7 324.4,384.7 324.4,393.6 326.4,393.6 326.4,403.4 320.2,403.4 320.2,413.8 315,413.8" fill="#f0663a"/>
<rect x="317.1" y="386.8" width="5.2" height="4" fill="#3a2010"/>
<line x1="319.7" y1="386.8" x2="319.7" y2="390.8" stroke="#f0663a" stroke-width="0.3"/>
<rect x="320.4" y="396.1" width="5.2" height="4" fill="#3a2010"/>
<line x1="323" y1="396.1" x2="323" y2="400.1" stroke="#f0663a" stroke-width="0.3"/>
<path d="M330.6,368.7 L342,368.7 C346,368.7 347.7,373 347.7,381.6 C347.7,390 346,394.5 342,394.5 L330.6,394.5 Z" fill="#bfc4c7" stroke="#666" stroke-width="0.4"/>
<rect x="330.6" y="384.7" width="8.7" height="9.8" fill="#f0663a"/>
<rect x="332.3" y="387" width="5.3" height="4.5" fill="#3a2010"/>
<rect x="331" y="401.3" width="16.2" height="12.5" fill="#fff" stroke="#444" stroke-width="0.45"/>
<rect x="331.6" y="414.6" width="0.8" height="1.7" fill="#555"/>
<rect x="333.1" y="414.6" width="0.8" height="1.7" fill="#555"/>
<rect x="334.6" y="414.6" width="0.8" height="1.7" fill="#555"/>
<rect x="336.1" y="414.6" width="0.8" height="1.7" fill="#555"/>
<rect x="364.8" y="340.3" width="40.5" height="15.3" fill="#bfc4c7" stroke="#8d8f91" stroke-width="0.45" rx="7.6"/>
<rect x="364.8" y="416.1" width="40.5" height="15.3" fill="#bfc4c7" stroke="#8d8f91" stroke-width="0.45" rx="7.6"/>
<rect x="409.5" y="340.3" width="38.9" height="15.3" fill="#bfc4c7" stroke="#8d8f91" stroke-width="0.45" rx="7.6"/>
<rect x="409.5" y="416.1" width="38.9" height="15.3" fill="#bfc4c7" stroke="#8d8f91" stroke-width="0.45" rx="7.6"/>
<line x1="355.4" y1="359.1" x2="464.4" y2="359.1" stroke="#666" stroke-width="0.45"/>
<line x1="346.7" y1="413.2" x2="464.4" y2="413.2" stroke="#666" stroke-width="0.45"/>
<line x1="346.7" y1="402.4" x2="346.7" y2="413.2" stroke="#666" stroke-width="0.45"/>
<line x1="448.9" y1="355.4" x2="448.9" y2="357.6" stroke="#222" stroke-width="0.55"/>
<line x1="450.5" y1="355.4" x2="450.5" y2="357.6" stroke="#222" stroke-width="0.55"/>
<line x1="452.1" y1="355.4" x2="452.1" y2="357.6" stroke="#222" stroke-width="0.55"/>
<line x1="453.7" y1="355.4" x2="453.7" y2="357.6" stroke="#222" stroke-width="0.55"/>
<line x1="455.3" y1="355.4" x2="455.3" y2="357.6" stroke="#222" stroke-width="0.55"/>
<line x1="456.9" y1="355.4" x2="456.9" y2="357.6" stroke="#222" stroke-width="0.55"/>
<line x1="458.5" y1="355.4" x2="458.5" y2="357.6" stroke="#222" stroke-width="0.55"/>
<line x1="460.1" y1="355.4" x2="460.1" y2="357.6" stroke="#222" stroke-width="0.55"/>
<line x1="449.8" y1="415.6" x2="449.8" y2="417.7" stroke="#222" stroke-width="0.55"/>
<line x1="451.4" y1="415.6" x2="451.4" y2="417.7" stroke="#222" stroke-width="0.55"/>
<line x1="453" y1="415.6" x2="453" y2="417.7" stroke="#222" stroke-width="0.55"/>
<line x1="454.6" y1="415.6" x2="454.6" y2="417.7" stroke="#222" stroke-width="0.55"/>
<line x1="456.2" y1="415.6" x2="456.2" y2="417.7" stroke="#222" stroke-width="0.55"/>
<line x1="457.8" y1="415.6" x2="457.8" y2="417.7" stroke="#222" stroke-width="0.55"/>
<line x1="459.4" y1="415.6" x2="459.4" y2="417.7" stroke="#222" stroke-width="0.55"/>
<path d="M357,368.9 L407.5,368.9 Q411,368.9 411,372.5 L411,383.3 L456.6,383.3 L456.6,392.8 L357,392.8 Q353.3,392.8 353.3,389 L353.3,373 Q353.3,368.9 357,368.9 Z" fill="#bfc4c7"/>
<path d="M358.7,383 L358.7,373 Q358.7,368.9 362.5,368.9 L401,368.9 Q403.1,368.9 403.1,371.5 L403.1,383 Z" fill="#fff" stroke="#666" stroke-width="0.35"/>
<polyline points="357,368.9 364,368.9 366.33,372.1 368.66,368.9 370.99,372.1 373.32,368.9 375.65,372.1 377.98,368.9 380.31,372.1 382.64,368.9 384.97,372.1 387.3,368.9 389.63,372.1 391.96,368.9 394.29,372.1 396.62,368.9 399.2,371.3 401.5,368.9 407.5,368.9" fill="none" stroke="#555" stroke-width="0.45"/>
<path d="M357,368.9 Q353.3,368.9 353.3,373 L353.3,389 Q353.3,392.8 357,392.8 L456.6,392.8" fill="none" stroke="#555" stroke-width="0.45"/>
<path d="M407.5,368.9 Q411,368.9 411,372.5 L411,383.3 L439.5,383.3" fill="none" stroke="#555" stroke-width="0.45"/>
<rect x="412.6" y="375.9" width="25" height="3.5" fill="#fff" stroke="#444" stroke-width="0.45"/>
<path d="M439.5,383.3 L439.5,370.8 Q448,366.8 456.6,370.8 L456.6,383.3 Z" fill="#fff" stroke="#555" stroke-width="0.4"/>
<path d="M356.5,393 L377.2,393 L377.2,404.4 L356.5,404.4 Q353.3,404.4 353.3,401 L353.3,396.4 Q353.3,393 356.5,393 Z" fill="#fff" stroke="#555" stroke-width="0.4"/>
<rect x="377.2" y="393" width="22.3" height="11.4" fill="#fff" stroke="#555" stroke-width="0.4"/>
<rect x="399.5" y="393" width="21" height="11.4" fill="#fff" stroke="#555" stroke-width="0.4"/>
<path d="M420.5,393.3 L464.4,393.3 L464.4,404.7 L461.9,405.6 L459.4,404.3 L456.9,405.6 L454.4,404.3 L451.9,405.6 L449.4,404.3 L446.9,405.6 L444.4,404.3 L441.9,405.6 L439.4,404.3 L436.9,405.6 L434.4,404.3 L431.9,405.6 L429.4,404.3 L426.9,405.6 L424.4,404.3 L421.9,405.6 L419.4,404.3 L420.5,404.7 Z" fill="#fff" stroke="#555" stroke-width="0.4"/>
<line x1="456.6" y1="392.6" x2="464.4" y2="392.6" stroke="#555" stroke-width="0.4"/>
<polygon points="464.4,355.9 464.4,349.4 470.9,342.9 511.5,342.9 511.5,352.3 500.2,352.3 500.2,355.9" fill="#0a9447"/>
<polygon points="464.4,355.9 472,355.9 469.5,362.4 464.4,362.4" fill="#bfc4c7"/>
<polygon points="500.2,352.3 512.4,352.3 512.4,362.4 503,362.4 500.2,355.9" fill="#bfc4c7"/>
<rect x="471.9" y="344.8" width="1.1" height="6.5" fill="#111"/>
<rect x="473.95" y="344.8" width="1.1" height="6.5" fill="#111"/>
<rect x="476" y="344.8" width="1.1" height="6.5" fill="#111"/>
<rect x="478.05" y="344.8" width="1.1" height="6.5" fill="#111"/>
<rect x="480.1" y="344.8" width="1.1" height="6.5" fill="#111"/>
<rect x="482.15" y="344.8" width="1.1" height="6.5" fill="#111"/>
<polygon points="488.8,351 491.7,345.3 511.2,345.3 509.1,351" fill="none" stroke="#fff" stroke-width="0.5"/>
<line x1="483.1" y1="355.9" x2="483.1" y2="358.3" stroke="#444" stroke-width="0.35"/>
<line x1="489.6" y1="355.9" x2="489.6" y2="358.3" stroke="#444" stroke-width="0.35"/>
<path d="M464.4,368.9 L470.1,368.9 C471,378 476,383 482.3,383 C489,383 494.5,378 496.1,369.2 L497.2,369.2 C496.8,385 497.2,395 498.4,405.2 L464.4,405.2 Z" fill="#bfc4c7" stroke="#666" stroke-width="0.4"/>
<line x1="464.4" y1="359.1" x2="464.4" y2="405" stroke="#666" stroke-width="0.45"/>
<rect x="482.4" y="376.3" width="0.8" height="5.3" fill="#111"/>
<rect x="483.9" y="376.3" width="0.8" height="5.3" fill="#111"/>
<rect x="485.4" y="376.3" width="0.8" height="5.3" fill="#111"/>
<rect x="486.9" y="376.3" width="0.8" height="5.3" fill="#111"/>
<rect x="488.4" y="376.3" width="0.8" height="5.3" fill="#111"/>
<rect x="489.9" y="376.3" width="0.8" height="5.3" fill="#111"/>
<rect x="491.4" y="376.3" width="0.8" height="5.3" fill="#111"/>
<rect x="464.4" y="383.5" width="8.9" height="9" fill="#f3ea1a"/>
<rect x="466" y="385.5" width="5.6" height="4.7" fill="#4a4310"/>
<line x1="466" y1="387.9" x2="471.6" y2="387.9" stroke="#f3ea1a" stroke-width="0.3"/>
<path d="M501,368.7 L518.8,368.7 L518.8,405.4 L501.8,405.4 C497,394 497,381 501,368.7 Z" fill="#fff" stroke="#555" stroke-width="0.45"/>
<rect x="518.8" y="368.7" width="14.8" height="24" fill="#bfc4c7"/>
<line x1="518.8" y1="392.7" x2="533.6" y2="392.7" stroke="#666" stroke-width="0.35"/>
<line x1="518.8" y1="405.4" x2="548" y2="405.4" stroke="#555" stroke-width="0.4"/>
<path d="M533.6,368.7 L541,367.5 A20,19 0 0 1 561,386.5 A20,19 0 0 1 547.8,404.4 L547.8,405.4 L533.6,405.4 Z" fill="#bfc4c7"/>
<path d="M545.2,368.1 A20,19 0 0 1 561,386.5 A20,19 0 0 1 547.4,404.6 C547,399 550,393 550,386 C550,379 547.5,372.5 545.2,368.1 Z" fill="#fff"/>
<path d="M548.2,371.5 C556.5,377 556.5,396 548.2,401.5" fill="none" stroke="#999" stroke-width="0.35"/>
<path d="M534.7,367.7 L541,367.5 A20,19 0 0 1 561,386.5 A20,19 0 0 1 547.8,404.4" fill="none" stroke="#333" stroke-width="0.5"/>
<polygon points="571.7,341.6 583.4,341.6 583.4,428.9 571.7,428.9 578.1,421.7 578.1,348.6" fill="#bfc4c7" stroke="#999" stroke-width="0.3"/>
<path d="M473.2,429.2 L473.2,410.5 Q473.2,408.8 476,408.8 L499,408.8 Q502,408.8 502,410.5 L502,429.2" fill="#fff" stroke="#555" stroke-width="0.4"/>
<line x1="487.5" y1="408.8" x2="487.5" y2="429.2" stroke="#555" stroke-width="0.45"/>
<line x1="464.5" y1="420.5" x2="473.2" y2="420.5" stroke="#777" stroke-width="0.35"/>
<line x1="464.5" y1="420.5" x2="471" y2="429.2" stroke="#777" stroke-width="0.35"/>
<line x1="455" y1="413.1" x2="464.8" y2="413.1" stroke="#777" stroke-width="0.35"/>
<line x1="464.4" y1="405" x2="515" y2="405" stroke="#555" stroke-width="0.4"/>
<path d="M84,341.3 L580.6,341.3 Q583.4,341.3 583.4,344 L583.4,426.3 Q583.4,429.2 580.6,429.2 L85,429.2 C75,429.2 69.6,424 69.2,412 L69,366 C69.5,350 74,341.5 84,341.3 Z" fill="none" stroke="#5a5a5a" stroke-width="0.8"/>
<text x="91.4" y="362.5" font-size="4.6" text-anchor="middle" fill="#1a1a1a" font-weight="bold" stroke="#1a1a1a" stroke-width="0.3">Observation</text>
<text x="91.4" y="368.1" font-size="4.6" text-anchor="middle" fill="#1a1a1a" font-weight="bold" stroke="#1a1a1a" stroke-width="0.3">Lounge</text>
<text x="91.8" y="388.2" font-size="4.6" text-anchor="middle" fill="#1a1a1a" font-weight="bold" stroke="#1a1a1a" stroke-width="0.3">Bar</text>
<text x="110.5" y="419.9" font-size="4.8" text-anchor="middle" fill="#1a1a1a" font-weight="bold" stroke="#1a1a1a" stroke-width="0.3">A La Carte Restaurant</text>
<text x="258.6" y="350.9" font-size="4.6" text-anchor="middle" fill="#1a1a1a" font-weight="bold" stroke="#1a1a1a" stroke-width="0.3">Roma Cafe</text>
<text x="232" y="392.8" font-size="5" text-anchor="start" fill="#1a1a1a" font-weight="bold" stroke="#1a1a1a" stroke-width="0.3">Self Service</text>
<text x="232" y="398.2" font-size="5" text-anchor="start" fill="#1a1a1a" font-weight="bold" stroke="#1a1a1a" stroke-width="0.3">Restaurant</text>
<text x="279.6" y="376.4" font-size="4.6" text-anchor="middle" fill="#1a1a1a" font-weight="bold" stroke="#1a1a1a" stroke-width="0.3">Bar</text>
<text x="297.9" y="408.8" font-size="4.6" text-anchor="middle" fill="#1a1a1a" font-weight="bold" stroke="#1a1a1a" stroke-width="0.3">Air Seats</text>
<text x="300.8" y="378.5" font-size="4.4" text-anchor="middle" fill="#1a1a1a" font-weight="bold" stroke="#1a1a1a" stroke-width="0.3">Ladies</text>
<text x="316.4" y="378.5" font-size="4.4" text-anchor="middle" fill="#1a1a1a" font-weight="bold" stroke="#1a1a1a" stroke-width="0.3">Gents</text>
<text x="339.1" y="406.1" font-size="3.9" text-anchor="middle" fill="#1a1a1a" font-weight="bold" stroke="#1a1a1a" stroke-width="0.3">Disabled</text>
<text x="339.1" y="411.7" font-size="3.9" text-anchor="middle" fill="#1a1a1a" font-weight="bold" stroke="#1a1a1a" stroke-width="0.3">WC</text>
<text x="380.3" y="379.5" font-size="4.6" text-anchor="middle" fill="#1a1a1a" font-weight="bold" stroke="#1a1a1a" stroke-width="0.3">Shop</text>
<text x="365.2" y="398.3" font-size="3.9" text-anchor="middle" fill="#1a1a1a" font-weight="bold" stroke="#1a1a1a" stroke-width="0.3">Children's</text>
<text x="365.2" y="403" font-size="3.9" text-anchor="middle" fill="#1a1a1a" font-weight="bold" stroke="#1a1a1a" stroke-width="0.3">Playroom</text>
<text x="388.3" y="400.5" font-size="3.9" text-anchor="middle" fill="#1a1a1a" font-weight="bold" stroke="#1a1a1a" stroke-width="0.3">Air Seats</text>
<text x="410" y="400.5" font-size="3.9" text-anchor="middle" fill="#1a1a1a" font-weight="bold" stroke="#1a1a1a" stroke-width="0.3">Air Seats</text>
<text x="425.4" y="371.9" font-size="4.6" text-anchor="middle" fill="#1a1a1a" font-weight="bold" stroke="#1a1a1a" stroke-width="0.3">Reception</text>
<text x="448.1" y="378.7" font-size="4.6" text-anchor="middle" fill="#1a1a1a" font-weight="bold" stroke="#1a1a1a" stroke-width="0.3">Purser</text>
<text x="441.9" y="399.4" font-size="4.6" text-anchor="middle" fill="#1a1a1a" font-weight="bold" stroke="#1a1a1a" stroke-width="0.3">Lounge</text>
<text x="486.2" y="367.2" font-size="4.6" text-anchor="middle" fill="#1a1a1a" font-weight="bold" stroke="#1a1a1a" stroke-width="0.3">Entrance</text>
<text x="486.2" y="372.4" font-size="4.6" text-anchor="middle" fill="#1a1a1a" font-weight="bold" stroke="#1a1a1a" stroke-width="0.3">Plaza</text>
<text x="508.8" y="385.6" font-size="4.2" text-anchor="middle" fill="#1a1a1a" font-weight="bold" stroke="#1a1a1a" stroke-width="0.3">Entrance</text>
<text x="508.8" y="390.8" font-size="4.2" text-anchor="middle" fill="#1a1a1a" font-weight="bold" stroke="#1a1a1a" stroke-width="0.3">Lounge</text>
<text x="568.6" y="388" font-size="4.6" text-anchor="middle" fill="#1a1a1a" font-weight="bold" stroke="#1a1a1a" stroke-width="0.3">Bar</text>
<text x="558.6" y="418.8" font-size="4.6" text-anchor="middle" fill="#1a1a1a" font-weight="bold" stroke="#1a1a1a" stroke-width="0.3">Yacht Club</text>
<text x="480.4" y="420" font-size="4.2" text-anchor="middle" fill="#1a1a1a" font-weight="bold" stroke="#1a1a1a" stroke-width="0.3">Ladies</text>
<text x="494.7" y="420" font-size="4.2" text-anchor="middle" fill="#1a1a1a" font-weight="bold" stroke="#1a1a1a" stroke-width="0.3">Gents</text>
<text x="33.8" y="388.3" font-size="8" text-anchor="start" fill="#1a1a1a" font-weight="bold" stroke="#1a1a1a" stroke-width="0.32" transform="translate(33.8 388.3) scale(0.91 1) translate(-33.8 -388.3)">Deck 7</text>
</svg>
</body></html>
